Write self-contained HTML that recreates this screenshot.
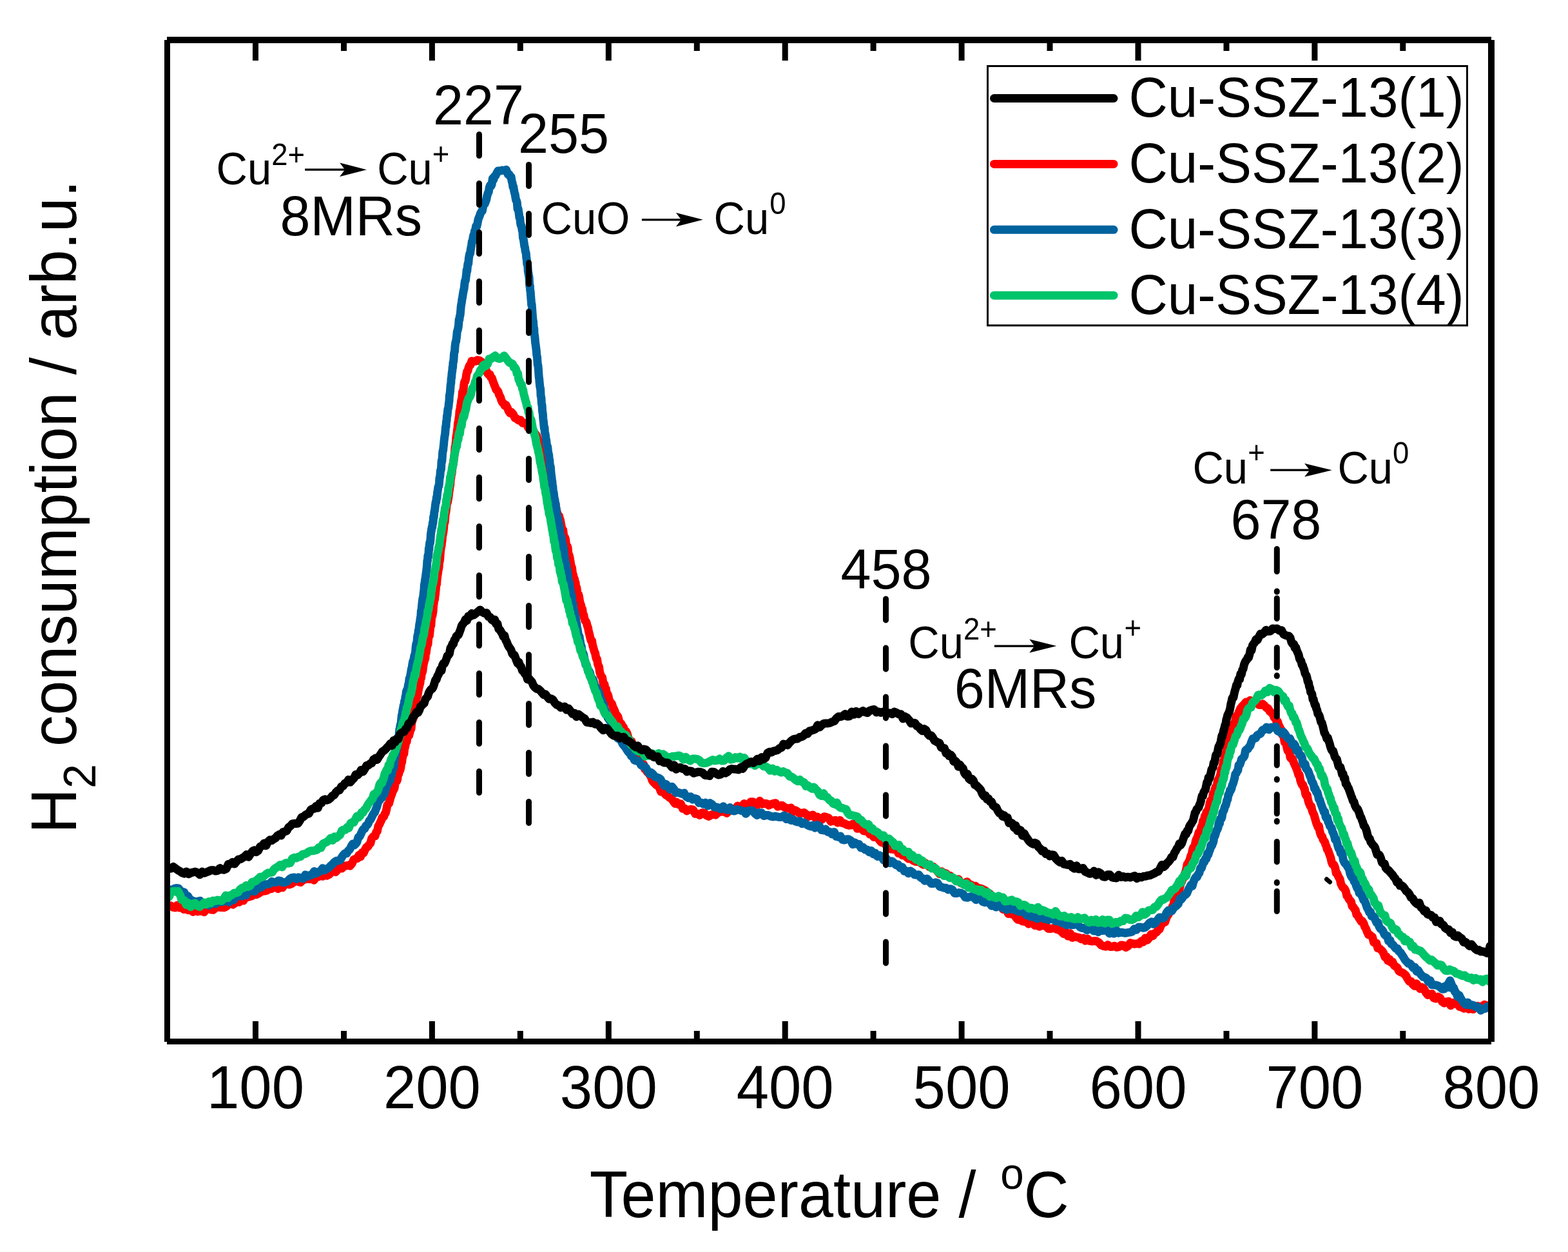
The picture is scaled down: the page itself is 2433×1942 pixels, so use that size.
<!DOCTYPE html><html><head><meta charset="utf-8"><title>H2-TPR Cu-SSZ-13</title><style>html,body{margin:0;padding:0;background:#fff;}svg{display:block;}text{font-family:'Liberation Sans', Arial, sans-serif;fill:#000;}</style></head><body>
<svg width="2433" height="1942" viewBox="0 0 2433 1942">
<rect width="2433" height="1942" fill="#fff"/>
<defs><clipPath id="pc"><rect x="259.5" y="62" width="2054.5" height="1553.5"/></clipPath></defs>
<g clip-path="url(#pc)" fill="none" stroke-width="13" stroke-linejoin="round" stroke-linecap="round">
<path d="M262.0,1404.5L265.2,1405.0L268.4,1407.4L271.7,1407.9L275.0,1404.2L278.4,1408.0L281.8,1407.2L285.3,1410.5L288.8,1409.0L292.3,1411.8L295.8,1411.0L299.3,1414.3L302.8,1411.6L306.3,1413.9L309.8,1413.1L313.3,1413.3L316.8,1414.7L320.3,1410.4L323.8,1408.5L327.3,1411.0L330.8,1411.4L334.3,1408.3L337.7,1405.6L341.1,1407.5L344.5,1407.3L347.9,1407.7L351.3,1405.9L354.7,1402.6L358.1,1400.5L361.4,1403.0L364.7,1400.8L368.0,1397.3L371.3,1399.2L374.6,1395.4L377.9,1397.0L381.2,1390.0L384.5,1391.5L387.8,1390.7L391.1,1389.6L394.4,1384.7L397.7,1387.6L401.0,1386.0L404.3,1383.8L407.7,1382.2L411.1,1382.1L414.5,1381.0L417.9,1376.5L421.3,1378.7L424.7,1376.1L428.1,1374.9L431.5,1378.7L434.9,1376.1L438.3,1376.8L441.8,1371.2L445.3,1370.6L448.8,1372.1L452.3,1370.9L455.8,1368.1L459.3,1366.0L462.8,1367.5L466.3,1368.6L469.8,1365.0L473.3,1364.0L476.8,1362.8L480.3,1363.8L483.7,1360.6L487.1,1365.2L490.5,1360.5L493.9,1360.1L497.3,1357.9L500.7,1359.2L504.1,1355.0L507.5,1358.2L510.9,1356.3L514.2,1352.7L517.5,1351.7L520.8,1352.6L524.1,1348.7L527.4,1346.4L530.6,1347.0L533.8,1342.9L536.9,1343.0L540.0,1342.2L543.0,1343.2L546.0,1339.8L548.9,1333.3L551.7,1332.2L554.4,1331.7L557.0,1326.4L559.5,1328.9L561.9,1322.3L564.2,1323.0L566.5,1317.8L568.7,1314.0L570.8,1313.4L572.8,1310.0L574.8,1308.0L576.7,1300.7L578.5,1298.3L580.3,1296.7L582.0,1296.8L583.7,1290.9L585.3,1289.5L586.9,1281.7L588.4,1279.3L589.9,1276.0L591.4,1273.1L592.8,1268.3L594.2,1267.9L595.6,1266.6L597.0,1262.4L598.3,1261.0L599.6,1256.0L600.9,1248.9L602.2,1247.5L603.5,1246.4L604.8,1241.7L606.0,1237.2L607.2,1233.5L608.4,1230.8L609.6,1226.6L610.8,1225.1L612.0,1222.7L613.2,1215.5L614.4,1212.5L615.5,1212.1L616.6,1209.4L617.7,1200.4L618.8,1200.6L619.8,1194.2L620.8,1194.9L621.8,1191.1L622.7,1183.4L623.6,1182.4L624.5,1174.9L625.3,1172.9L626.1,1168.6L626.9,1169.2L627.7,1160.4L628.5,1159.0L629.3,1154.5L630.2,1150.5L631.1,1150.7L632.1,1142.1L633.3,1140.4L634.6,1141.1L635.9,1136.0L637.0,1131.8L638.0,1130.4L638.9,1120.6L639.7,1118.7L640.4,1114.5L641.1,1114.9L641.8,1108.2L642.5,1106.2L643.2,1104.7L643.9,1096.9L644.6,1091.1L645.3,1092.4L646.0,1085.7L646.7,1081.5L647.4,1080.3L648.1,1077.7L648.8,1073.2L649.5,1069.3L650.3,1065.8L651.1,1062.2L651.9,1059.4L652.7,1052.5L653.5,1051.8L654.3,1043.6L655.1,1043.5L655.9,1040.7L656.7,1033.5L657.5,1029.0L658.3,1026.2L659.1,1023.0L659.8,1021.8L660.5,1013.9L661.2,1013.0L661.9,1007.5L662.6,1002.5L663.3,1000.9L664.0,999.1L664.6,992.1L665.2,987.8L665.8,984.8L666.4,986.0L667.0,979.9L667.6,974.2L668.2,971.2L668.8,970.2L669.4,961.5L670.0,956.5L670.6,956.2L671.1,953.7L671.6,951.1L672.1,947.7L672.6,938.8L673.1,937.0L673.6,931.8L674.1,930.7L674.6,929.5L675.1,923.7L675.6,921.6L676.1,915.0L676.6,910.3L677.1,906.0L677.6,906.5L678.1,899.4L678.6,894.6L679.1,891.5L679.6,888.5L680.1,884.2L680.6,882.8L681.1,879.3L681.6,870.6L682.1,871.3L682.6,867.7L683.1,860.9L683.6,854.4L684.1,851.3L684.6,846.2L685.1,846.8L685.6,840.1L686.1,838.8L686.6,830.5L687.1,829.4L687.6,827.2L688.1,823.8L688.6,819.3L689.1,812.8L689.6,811.2L690.1,810.3L690.6,804.3L691.1,797.4L691.6,796.2L692.1,793.3L692.7,787.5L693.3,782.4L693.9,780.5L694.5,779.2L695.1,776.2L695.7,772.2L696.3,768.5L696.9,762.5L697.5,759.5L698.1,754.8L698.7,752.1L699.3,742.8L699.9,740.6L700.5,735.8L701.0,734.7L701.5,729.5L702.0,724.5L702.5,721.0L703.0,721.4L703.5,717.9L704.0,713.6L704.5,710.1L705.0,705.5L705.5,702.2L706.0,693.7L706.5,692.3L707.0,689.6L707.5,683.8L708.0,677.1L708.5,675.0L709.0,671.3L709.5,666.7L710.0,665.0L710.5,656.5L711.0,655.4L711.5,651.7L712.0,648.4L712.5,645.6L713.0,638.3L713.5,635.7L714.0,635.1L714.5,629.3L715.1,627.2L715.7,621.5L716.3,619.9L716.9,616.2L717.5,608.0L718.2,609.1L718.9,605.5L719.6,598.9L720.3,593.8L721.1,591.4L721.9,591.6L722.8,587.5L723.7,580.9L724.7,576.3L725.8,575.9L727.0,570.6L728.4,567.2L730.0,566.1L731.9,559.9L734.3,560.9L737.4,560.4L740.9,558.6L744.0,559.1L746.7,561.0L749.0,563.9L751.1,566.1L753.1,572.0L755.0,575.6L756.8,579.4L758.5,581.4L760.2,581.1L761.8,585.6L763.4,586.6L765.0,591.7L766.6,596.0L768.2,599.9L769.8,604.3L771.4,605.4L773.0,607.6L774.6,612.7L776.3,615.5L778.0,621.0L779.7,624.5L781.5,625.7L783.3,629.4L785.2,628.3L787.2,632.3L789.3,637.5L791.5,640.7L793.8,639.5L796.3,642.6L799.0,648.3L801.8,649.5L804.8,652.0L807.8,651.5L810.9,656.3L813.9,656.4L816.8,656.3L819.6,663.5L822.3,661.1L824.8,666.9L827.1,667.0L829.2,672.3L831.1,673.5L832.9,676.1L834.5,683.8L836.0,683.4L837.4,690.6L838.7,693.7L839.9,695.7L841.1,698.3L842.2,704.2L843.3,708.1L844.3,706.8L845.3,711.9L846.2,719.0L847.1,721.7L848.0,722.2L848.8,727.2L849.6,733.2L850.4,732.8L851.2,737.7L852.0,740.1L852.8,745.9L853.6,749.6L854.4,755.0L855.2,758.8L856.0,760.5L856.8,765.6L857.6,767.1L858.5,772.0L859.4,777.1L860.3,776.1L861.2,782.7L862.2,782.4L863.2,791.8L864.2,793.7L865.2,798.4L866.2,801.7L867.3,799.8L868.4,803.9L869.5,806.9L870.6,813.4L871.7,818.8L872.7,822.4L873.7,821.9L874.7,830.4L875.7,834.4L876.7,833.7L877.6,836.8L878.5,845.3L879.4,848.9L880.3,847.0L881.1,850.0L881.9,859.6L882.7,860.0L883.5,862.5L884.3,866.3L885.1,871.6L885.9,876.2L886.7,879.1L887.5,880.8L888.3,887.6L889.1,891.1L889.9,893.9L890.7,896.9L891.5,898.1L892.3,905.0L893.1,903.8L894.0,913.8L894.9,911.8L895.8,919.9L896.7,922.8L897.6,922.1L898.6,925.8L899.6,932.9L900.6,936.4L901.6,938.8L902.6,945.3L903.6,944.6L904.6,952.4L905.7,953.6L906.8,959.5L907.9,962.9L909.0,963.6L910.1,965.8L911.2,970.6L912.3,973.1L913.4,978.9L914.5,983.5L915.5,987.6L916.5,991.8L917.5,994.5L918.5,993.9L919.5,1000.8L920.5,1004.0L921.5,1007.7L922.5,1011.2L923.5,1013.0L924.5,1018.6L925.5,1022.3L926.5,1022.3L927.5,1029.8L928.5,1032.5L929.5,1034.4L930.5,1042.1L931.5,1045.5L932.5,1048.2L933.5,1049.7L934.6,1050.9L935.7,1058.2L936.8,1062.4L937.9,1061.4L939.1,1069.2L940.3,1068.4L941.5,1077.5L942.7,1076.5L944.0,1079.7L945.3,1086.8L946.7,1088.3L948.1,1090.2L949.5,1091.9L951.0,1096.8L952.5,1099.6L954.0,1103.0L955.6,1108.9L957.2,1109.3L958.8,1111.5L960.5,1118.0L962.2,1122.1L963.9,1122.4L965.7,1126.4L967.5,1128.1L969.3,1135.6L971.1,1134.0L972.9,1137.0L974.7,1143.6L976.5,1148.0L978.3,1150.2L980.1,1150.1L981.8,1155.2L983.5,1161.4L985.2,1163.2L986.9,1167.3L988.6,1168.9L990.3,1169.1L992.0,1173.8L993.7,1179.1L995.4,1183.5L997.1,1185.9L998.8,1186.0L1000.6,1192.7L1002.4,1192.6L1004.2,1197.5L1006.1,1198.7L1008.0,1201.6L1010.0,1204.4L1012.0,1210.5L1014.1,1213.3L1016.3,1215.5L1018.5,1217.8L1020.8,1217.4L1023.2,1222.0L1025.6,1228.0L1028.1,1226.7L1030.7,1230.0L1033.3,1233.1L1036.0,1234.7L1038.8,1237.2L1041.6,1238.3L1044.5,1242.4L1047.4,1246.5L1050.3,1244.6L1053.3,1247.9L1056.3,1246.8L1059.4,1254.3L1062.5,1254.0L1065.7,1257.8L1068.9,1256.2L1072.2,1255.2L1075.5,1256.0L1078.9,1262.3L1082.3,1262.2L1085.8,1264.4L1089.3,1260.8L1092.8,1260.9L1096.3,1264.8L1099.8,1266.4L1103.3,1264.1L1106.8,1263.1L1110.3,1264.1L1113.8,1260.7L1117.3,1259.3L1120.8,1258.7L1124.2,1259.2L1127.6,1261.3L1131.0,1258.0L1134.4,1254.0L1137.8,1256.0L1141.1,1257.1L1144.4,1250.1L1147.8,1253.0L1151.2,1252.0L1154.6,1246.5L1158.0,1251.6L1161.4,1249.3L1164.9,1243.7L1168.4,1243.8L1171.9,1248.5L1175.4,1248.2L1178.9,1242.3L1182.4,1247.2L1185.9,1246.2L1189.4,1246.4L1192.9,1249.2L1196.4,1247.6L1199.9,1246.3L1203.4,1245.7L1206.8,1251.1L1210.2,1250.0L1213.6,1249.2L1217.0,1252.1L1220.4,1253.3L1223.8,1254.3L1227.2,1252.9L1230.6,1259.1L1234.0,1256.8L1237.4,1258.9L1240.8,1261.9L1244.2,1261.2L1247.6,1260.5L1251.0,1263.1L1254.4,1266.8L1257.8,1265.1L1261.2,1264.1L1264.7,1268.1L1268.2,1267.1L1271.7,1270.2L1275.2,1271.4L1278.7,1266.7L1282.2,1267.5L1285.7,1268.8L1289.2,1274.3L1292.7,1272.9L1296.2,1272.3L1299.7,1276.2L1303.2,1272.2L1306.6,1276.5L1310.0,1277.2L1313.4,1279.0L1316.8,1280.2L1320.2,1280.0L1323.6,1277.9L1327.0,1278.8L1330.3,1285.2L1333.6,1284.7L1336.9,1285.4L1340.1,1288.9L1343.3,1289.2L1346.5,1289.1L1349.6,1294.0L1352.7,1294.4L1355.7,1298.4L1358.7,1298.0L1361.7,1298.8L1364.6,1303.2L1367.5,1306.7L1370.4,1303.3L1373.3,1308.9L1376.2,1312.6L1379.1,1309.1L1382.0,1317.0L1385.0,1317.4L1388.0,1317.6L1391.1,1317.2L1394.2,1323.8L1397.3,1322.5L1400.5,1326.8L1403.7,1326.9L1406.9,1329.8L1410.1,1332.1L1413.3,1328.2L1416.5,1334.7L1419.7,1336.2L1422.9,1336.6L1426.1,1335.9L1429.3,1339.0L1432.5,1341.2L1435.7,1338.6L1438.9,1341.0L1442.1,1344.6L1445.3,1345.7L1448.5,1344.6L1451.7,1347.9L1454.9,1351.7L1458.1,1355.6L1461.3,1351.8L1464.5,1356.9L1467.7,1354.6L1470.9,1358.3L1474.1,1358.2L1477.4,1361.5L1480.7,1363.0L1484.0,1365.5L1487.3,1363.8L1490.6,1369.6L1493.9,1371.0L1497.2,1369.9L1500.5,1367.7L1503.8,1371.6L1507.1,1372.5L1510.4,1375.3L1513.6,1374.3L1516.8,1377.6L1520.0,1377.7L1523.1,1378.5L1526.2,1380.1L1529.2,1381.4L1532.2,1384.6L1535.1,1385.8L1538.0,1388.9L1540.8,1393.5L1543.5,1395.1L1546.2,1394.9L1548.8,1400.4L1551.4,1400.9L1554.0,1407.7L1556.6,1410.5L1559.2,1410.8L1561.9,1411.5L1564.6,1417.4L1567.4,1414.1L1570.3,1418.2L1573.3,1417.6L1576.4,1423.2L1579.5,1426.6L1582.7,1422.9L1585.9,1428.8L1589.2,1429.4L1592.5,1429.1L1595.9,1433.1L1599.3,1431.2L1602.7,1432.1L1606.1,1435.6L1609.5,1435.4L1612.9,1437.1L1616.3,1434.7L1619.7,1436.0L1623.1,1436.7L1626.5,1440.4L1629.9,1440.6L1633.3,1439.9L1636.7,1439.5L1640.1,1441.7L1643.5,1442.5L1646.9,1445.0L1650.3,1448.5L1653.7,1445.3L1657.1,1452.1L1660.5,1447.8L1663.9,1454.4L1667.3,1452.5L1670.7,1453.8L1674.1,1454.1L1677.5,1456.6L1680.9,1455.1L1684.3,1459.3L1687.7,1456.3L1691.1,1459.6L1694.5,1460.0L1697.9,1459.6L1701.4,1459.8L1704.9,1461.8L1708.4,1465.8L1711.9,1467.5L1715.4,1468.2L1718.9,1465.7L1722.4,1468.5L1725.9,1468.4L1729.4,1467.3L1732.9,1469.3L1736.4,1468.7L1739.9,1465.9L1743.4,1466.5L1746.9,1469.5L1750.4,1467.6L1753.9,1462.6L1757.4,1463.8L1760.8,1464.2L1764.2,1463.6L1767.5,1464.2L1770.8,1459.9L1774.0,1461.2L1777.1,1455.0L1780.2,1458.3L1783.2,1454.7L1786.1,1449.2L1788.9,1451.7L1791.6,1447.6L1794.2,1446.2L1796.7,1443.3L1799.1,1441.3L1801.4,1435.3L1803.6,1432.5L1805.7,1429.3L1807.7,1430.3L1809.6,1424.4L1811.4,1420.4L1813.1,1418.3L1814.7,1414.0L1816.3,1411.8L1817.8,1412.0L1819.3,1405.9L1820.7,1403.7L1822.1,1396.8L1823.5,1393.0L1824.8,1391.1L1826.1,1391.2L1827.4,1382.5L1828.7,1382.8L1830.0,1380.0L1831.2,1373.6L1832.4,1370.0L1833.6,1367.9L1834.8,1364.0L1836.0,1361.6L1837.2,1360.8L1838.4,1355.1L1839.6,1352.0L1840.8,1348.4L1842.0,1341.1L1843.2,1341.0L1844.4,1336.9L1845.6,1335.3L1846.8,1330.9L1848.0,1327.0L1849.2,1325.2L1850.4,1318.5L1851.6,1314.6L1852.8,1315.0L1854.0,1312.0L1855.2,1305.1L1856.4,1301.7L1857.6,1299.3L1858.9,1295.7L1860.2,1291.0L1861.5,1289.9L1862.8,1288.2L1864.1,1282.2L1865.4,1280.5L1866.7,1273.0L1868.0,1274.1L1869.3,1266.3L1870.6,1266.3L1871.9,1259.7L1873.2,1260.6L1874.5,1256.0L1875.8,1253.4L1877.1,1245.9L1878.4,1241.7L1879.7,1242.7L1881.0,1240.0L1882.3,1231.2L1883.6,1230.9L1884.8,1225.2L1886.0,1221.3L1887.2,1221.4L1888.4,1216.4L1889.5,1210.4L1890.6,1208.8L1891.7,1207.0L1892.8,1203.8L1893.8,1201.3L1894.8,1194.1L1895.8,1193.7L1896.7,1189.8L1897.6,1187.4L1898.5,1180.4L1899.4,1178.5L1900.3,1173.0L1901.2,1172.8L1902.1,1167.7L1903.0,1165.0L1903.9,1161.3L1904.8,1153.3L1905.7,1151.5L1906.6,1145.9L1907.6,1146.2L1908.6,1144.0L1909.6,1138.4L1910.6,1132.7L1911.7,1130.7L1912.8,1130.2L1913.9,1122.6L1915.1,1123.5L1916.3,1120.4L1917.6,1112.2L1919.0,1109.9L1920.5,1109.9L1922.1,1105.0L1923.9,1100.6L1925.8,1097.5L1928.0,1094.8L1930.4,1092.7L1933.2,1089.1L1936.3,1090.7L1939.7,1086.4L1943.2,1088.1L1946.7,1089.5L1950.0,1089.3L1953.2,1093.2L1956.3,1093.5L1959.3,1091.9L1962.2,1094.6L1965.0,1097.9L1967.7,1098.9L1970.3,1103.5L1972.7,1105.4L1974.9,1106.8L1977.0,1112.7L1979.0,1113.1L1980.8,1119.5L1982.5,1119.3L1984.1,1124.7L1985.6,1127.4L1987.0,1132.2L1988.3,1132.3L1989.6,1139.4L1990.8,1139.4L1992.0,1143.0L1993.2,1150.9L1994.4,1151.0L1995.6,1152.4L1996.8,1159.5L1998.0,1164.1L1999.3,1165.9L2000.6,1165.8L2002.0,1174.8L2003.4,1176.7L2004.8,1176.3L2006.3,1179.6L2007.8,1183.6L2009.3,1186.9L2010.7,1189.8L2012.1,1193.2L2013.5,1197.4L2014.9,1202.2L2016.3,1202.2L2017.7,1210.4L2019.1,1214.5L2020.4,1217.3L2021.7,1217.3L2023.0,1221.6L2024.3,1223.5L2025.6,1231.5L2026.9,1234.4L2028.2,1233.0L2029.5,1240.3L2030.8,1245.2L2032.1,1248.2L2033.4,1250.9L2034.7,1250.9L2036.0,1257.3L2037.3,1260.6L2038.6,1263.0L2039.9,1267.4L2041.2,1271.9L2042.5,1276.6L2043.8,1279.8L2045.1,1283.2L2046.4,1281.0L2047.7,1289.0L2049.0,1293.7L2050.3,1296.8L2051.6,1297.7L2052.9,1302.1L2054.2,1304.1L2055.5,1305.7L2056.8,1309.9L2058.1,1312.7L2059.4,1317.8L2060.7,1318.9L2062.0,1322.8L2063.4,1326.7L2064.8,1330.4L2066.2,1337.2L2067.6,1340.6L2069.0,1340.4L2070.4,1342.5L2071.8,1346.5L2073.2,1354.2L2074.6,1354.5L2076.1,1358.3L2077.6,1361.3L2079.1,1363.7L2080.6,1370.8L2082.1,1373.8L2083.6,1376.5L2085.1,1377.3L2086.7,1379.3L2088.3,1382.6L2089.9,1389.7L2091.5,1390.9L2093.1,1394.7L2094.7,1396.7L2096.4,1398.5L2098.1,1405.8L2099.8,1406.7L2101.5,1409.7L2103.2,1411.5L2104.9,1418.8L2106.7,1419.8L2108.5,1423.7L2110.3,1426.2L2112.1,1429.2L2113.9,1428.8L2115.8,1431.9L2117.7,1437.6L2119.6,1440.7L2121.5,1445.8L2123.5,1450.0L2125.5,1450.2L2127.5,1452.0L2129.5,1453.4L2131.6,1461.6L2133.7,1462.8L2135.8,1463.0L2137.9,1470.7L2140.1,1471.1L2142.3,1472.7L2144.5,1474.7L2146.7,1478.2L2149.0,1484.6L2151.3,1483.9L2153.6,1490.2L2156.0,1487.8L2158.4,1492.8L2160.8,1492.0L2163.2,1497.5L2165.7,1499.3L2168.2,1500.9L2170.7,1506.2L2173.3,1508.0L2175.9,1508.6L2178.5,1510.4L2181.2,1512.8L2183.9,1517.8L2186.6,1522.2L2189.4,1522.2L2192.2,1527.0L2195.0,1529.5L2197.8,1525.7L2200.7,1530.0L2203.6,1533.7L2206.5,1531.4L2209.5,1533.7L2212.5,1539.5L2215.5,1543.4L2218.6,1542.4L2221.7,1541.6L2224.8,1548.1L2228.0,1549.0L2231.2,1546.1L2234.4,1547.7L2237.7,1553.6L2241.0,1555.9L2244.3,1554.0L2247.6,1553.4L2251.0,1559.7L2254.4,1555.4L2257.8,1557.0L2261.3,1557.3L2264.8,1561.7L2268.3,1562.3L2271.8,1564.3L2275.3,1558.9L2278.8,1565.2L2282.3,1561.3L2285.8,1565.6L2289.3,1561.7L2292.8,1560.5L2296.3,1563.2L2299.8,1560.7L2303.3,1558.4L2306.8,1559.7L2310.3,1560.8L2312.0,1559.7" stroke="#ff0000"/>
<path d="M262.0,1387.5L264.3,1380.1L267.1,1380.9L270.4,1378.4L273.9,1377.6L277.2,1378.0L280.2,1382.6L283.1,1383.2L285.9,1384.2L288.7,1390.7L291.5,1390.0L294.4,1394.7L297.4,1396.6L300.5,1397.8L303.7,1398.9L307.0,1398.0L310.4,1397.3L313.8,1403.6L317.3,1402.0L320.8,1402.5L324.3,1404.3L327.8,1401.3L331.3,1400.5L334.8,1401.9L338.3,1398.1L341.8,1398.6L345.3,1398.9L348.7,1395.4L352.1,1396.8L355.5,1399.4L358.9,1394.3L362.2,1396.1L365.5,1391.4L368.8,1390.1L372.1,1388.7L375.4,1390.1L378.7,1384.7L382.0,1388.6L385.2,1381.6L388.4,1381.6L391.7,1381.7L395.0,1382.7L398.3,1379.2L401.6,1374.3L404.9,1376.8L408.2,1373.4L411.5,1371.7L414.9,1371.6L418.3,1370.8L421.7,1367.4L425.1,1368.4L428.5,1368.6L432.0,1365.9L435.5,1366.7L439.0,1368.9L442.5,1368.3L446.0,1367.1L449.5,1363.4L453.0,1361.4L456.5,1361.1L460.0,1363.4L463.5,1360.9L467.0,1361.9L470.5,1362.7L473.9,1356.9L477.3,1359.5L480.7,1357.7L484.1,1356.9L487.5,1351.6L490.8,1354.8L494.1,1352.4L497.4,1351.1L500.6,1346.7L503.8,1349.8L507.0,1347.8L510.1,1346.1L513.1,1342.9L516.1,1340.3L519.0,1337.3L521.9,1335.2L524.7,1334.9L527.5,1334.5L530.2,1329.9L532.8,1326.1L535.4,1323.5L537.9,1323.6L540.4,1319.4L542.8,1317.4L545.1,1312.4L547.4,1309.0L549.6,1311.0L551.8,1309.1L553.9,1306.3L556.0,1298.7L558.1,1297.4L560.1,1293.3L562.1,1288.8L564.0,1285.8L565.9,1285.5L567.7,1280.9L569.5,1280.0L571.3,1277.6L573.0,1273.0L574.7,1271.5L576.4,1268.5L578.1,1264.6L579.8,1261.8L581.5,1260.0L583.2,1255.3L584.8,1251.5L586.4,1245.4L588.0,1241.9L589.6,1240.8L591.3,1234.8L593.0,1237.3L594.7,1229.1L596.4,1231.3L598.1,1225.0L599.8,1220.4L601.4,1216.5L602.9,1214.2L604.3,1210.8L605.5,1210.3L606.6,1203.4L607.6,1201.7L608.6,1196.8L609.5,1193.4L610.3,1191.6L611.1,1189.7L611.8,1184.1L612.5,1178.8L613.2,1172.6L613.8,1172.3L614.4,1167.2L615.0,1162.9L615.6,1162.5L616.2,1156.2L616.8,1153.5L617.4,1149.0L618.0,1146.8L618.6,1142.3L619.2,1139.2L619.8,1131.6L620.4,1129.9L621.0,1125.9L621.6,1123.0L622.2,1122.4L622.8,1115.3L623.4,1109.4L624.1,1107.5L624.8,1101.8L625.5,1098.9L626.2,1094.2L626.9,1094.5L627.6,1087.4L628.3,1087.9L629.0,1080.9L629.7,1079.2L630.4,1073.0L631.2,1070.6L632.0,1070.2L632.8,1066.9L633.6,1061.9L634.4,1059.8L635.2,1052.2L636.0,1051.6L636.8,1047.4L637.6,1043.0L638.4,1037.6L639.2,1035.4L640.0,1029.7L640.8,1025.6L641.6,1027.2L642.4,1020.1L643.1,1016.4L643.8,1016.0L644.5,1012.0L645.2,1003.4L645.8,999.1L646.4,997.5L647.0,996.4L647.6,988.0L648.2,984.9L648.8,983.7L649.4,977.4L649.9,977.4L650.4,971.7L650.9,967.6L651.4,966.5L651.9,961.5L652.4,958.3L652.9,955.8L653.4,947.2L653.9,948.0L654.4,941.6L654.9,936.3L655.4,931.7L655.9,928.3L656.4,927.1L656.9,923.5L657.4,918.6L657.9,915.7L658.4,906.0L658.9,906.9L659.4,900.5L659.9,897.8L660.4,894.9L660.9,890.5L661.4,887.8L661.9,882.7L662.4,879.6L662.9,869.8L663.4,870.5L663.9,861.8L664.4,864.0L664.9,860.4L665.4,850.6L665.9,852.3L666.4,844.5L666.9,840.8L667.4,841.9L667.9,837.8L668.4,829.3L669.0,824.9L669.6,821.8L670.2,817.5L670.8,817.7L671.4,810.9L672.0,810.8L672.6,801.7L673.2,802.3L673.8,794.6L674.4,792.5L675.0,787.9L675.6,782.4L676.2,778.5L676.8,778.8L677.4,771.3L678.0,772.7L678.6,764.1L679.2,761.3L679.8,756.4L680.4,754.0L681.0,753.7L681.5,748.5L682.0,741.3L682.5,740.7L683.0,736.3L683.5,729.6L684.0,729.6L684.5,727.3L685.0,717.0L685.4,713.9L685.8,715.8L686.2,710.9L686.6,703.3L687.0,699.4L687.4,699.7L687.8,696.7L688.2,692.2L688.6,689.6L689.0,684.3L689.5,679.9L690.0,676.2L690.5,674.1L691.0,669.0L691.5,661.8L692.0,662.3L692.5,653.9L693.0,653.1L693.5,645.2L694.0,644.6L694.5,638.8L695.0,634.6L695.5,633.3L696.0,630.2L696.5,624.8L697.0,622.3L697.4,613.0L697.8,612.7L698.2,609.1L698.6,605.9L699.0,599.3L699.4,596.1L699.8,594.4L700.2,587.0L700.6,586.5L701.0,580.3L701.4,577.3L701.8,575.3L702.2,569.1L702.6,569.8L703.0,562.1L703.5,561.7L704.0,557.3L704.5,549.1L705.0,546.4L705.5,545.0L706.0,537.4L706.5,533.8L707.0,530.5L707.5,530.1L708.0,526.4L708.6,522.3L709.2,515.0L709.8,513.0L710.4,511.3L711.0,508.3L711.6,504.1L712.2,495.3L712.8,496.4L713.4,490.5L714.0,489.1L714.6,483.5L715.2,475.7L715.8,471.9L716.4,468.6L717.0,463.8L717.6,461.4L718.2,456.8L718.8,453.5L719.4,450.2L720.0,448.3L720.6,443.1L721.2,437.1L721.8,435.1L722.4,435.0L723.0,429.9L723.6,425.8L724.2,418.4L724.8,420.4L725.4,413.4L726.0,408.7L726.7,409.3L727.4,400.8L728.1,396.4L728.8,393.4L729.5,393.4L730.2,387.8L730.9,384.0L731.6,380.4L732.4,374.4L733.2,374.9L734.0,368.3L734.8,364.8L735.7,363.1L736.6,358.3L737.6,357.0L738.6,350.8L739.7,351.7L740.8,347.2L742.0,340.4L743.2,337.4L744.5,333.9L745.8,330.2L747.1,328.4L748.4,327.2L749.7,320.0L751.0,317.2L752.2,316.4L753.4,313.1L754.6,310.0L755.8,303.9L757.0,299.8L758.2,297.7L759.4,290.3L760.6,287.3L761.8,288.7L763.1,286.2L764.4,276.6L765.8,278.8L767.3,273.5L768.9,272.5L770.7,268.6L772.9,265.0L775.8,265.1L779.3,264.0L782.5,264.7L785.4,263.2L788.2,270.3L790.4,270.7L792.0,274.5L793.2,274.7L794.2,281.4L795.1,283.9L795.9,290.1L796.7,289.3L797.5,294.9L798.3,298.7L799.1,301.1L799.9,306.1L800.7,310.7L801.5,311.2L802.3,314.6L803.1,324.6L803.9,323.4L804.6,327.5L805.3,331.9L806.0,337.9L806.7,337.7L807.4,345.0L808.1,349.3L808.8,349.7L809.5,352.8L810.2,357.2L810.9,359.7L811.5,368.8L812.1,370.7L812.7,373.6L813.3,378.5L813.9,382.4L814.5,383.6L815.1,389.3L815.7,390.8L816.3,393.5L816.8,400.1L817.3,402.6L817.8,409.4L818.3,409.6L818.8,411.9L819.3,420.1L819.8,423.1L820.3,426.3L820.7,427.8L821.1,431.2L821.5,439.4L821.9,444.1L822.3,443.3L822.7,450.9L823.1,451.7L823.5,457.8L823.9,463.0L824.3,467.1L824.7,473.4L825.1,472.0L825.5,477.4L825.9,483.0L826.3,488.8L826.7,493.5L827.1,497.3L827.5,498.3L827.9,505.5L828.3,510.6L828.7,509.4L829.1,518.3L829.5,519.9L829.9,523.2L830.3,527.7L830.7,532.4L831.1,534.3L831.5,537.9L831.9,540.8L832.3,544.3L832.7,549.8L833.1,552.0L833.5,553.6L833.9,559.7L834.3,566.0L834.7,566.0L835.1,569.1L835.5,574.2L835.9,580.9L836.3,585.4L836.7,587.7L837.1,593.0L837.5,596.9L837.9,600.1L838.3,602.2L838.7,604.0L839.1,614.1L839.5,614.9L839.9,617.7L840.3,623.8L840.7,627.8L841.1,628.6L841.5,637.2L841.9,639.5L842.3,641.9L842.7,648.4L843.1,651.9L843.5,655.1L843.9,659.6L844.4,664.6L844.9,663.2L845.4,671.6L845.9,672.1L846.5,676.0L847.1,681.4L847.7,682.7L848.4,691.0L849.1,691.2L849.8,693.7L850.5,701.1L851.1,703.6L851.7,705.7L852.3,714.4L852.8,713.8L853.3,722.1L853.8,724.1L854.3,723.6L854.8,730.7L855.3,736.1L855.8,739.2L856.3,744.1L856.8,746.4L857.3,753.0L857.8,754.2L858.3,760.1L858.8,763.4L859.3,765.4L859.8,770.8L860.3,773.0L860.8,774.8L861.4,778.9L862.0,781.7L862.6,791.3L863.2,789.0L863.8,796.3L864.4,799.3L865.0,804.7L865.7,803.8L866.4,808.3L867.1,812.4L867.8,816.2L868.5,819.8L869.2,827.3L869.9,831.3L870.6,831.2L871.3,834.2L872.0,840.9L872.7,844.9L873.4,845.1L874.1,850.0L874.8,853.3L875.5,861.8L876.2,864.5L876.9,870.4L877.6,874.5L878.3,874.4L879.0,881.3L879.6,884.2L880.2,884.0L880.8,889.2L881.4,894.8L882.0,899.5L882.6,902.2L883.2,902.6L883.8,904.7L884.4,913.6L885.0,914.4L885.6,917.7L886.3,922.2L887.0,923.6L887.7,931.8L888.4,934.7L889.1,936.6L889.8,943.3L890.5,947.7L891.2,947.9L891.9,953.0L892.6,955.2L893.3,958.1L894.0,966.0L894.7,966.6L895.4,973.6L896.1,975.9L896.8,980.9L897.5,984.8L898.2,985.9L899.0,987.2L899.8,992.9L900.6,996.8L901.4,1001.5L902.2,1002.3L903.1,1009.9L904.0,1014.3L904.9,1013.1L905.8,1016.0L906.8,1021.5L907.8,1026.2L908.9,1031.5L910.1,1031.3L911.3,1035.6L912.6,1040.9L914.0,1040.8L915.5,1043.8L917.0,1051.7L918.6,1051.9L920.2,1053.6L921.8,1058.8L923.3,1065.6L924.8,1065.7L926.3,1068.7L927.7,1072.4L929.1,1073.3L930.5,1078.7L931.9,1083.5L933.3,1086.8L934.7,1090.6L936.0,1091.9L937.3,1097.7L938.7,1101.1L940.1,1103.9L941.5,1106.8L942.9,1112.9L944.3,1114.9L945.7,1117.4L947.2,1117.9L948.7,1124.7L950.2,1129.2L951.8,1128.2L953.4,1134.4L955.1,1137.6L956.8,1141.8L958.6,1145.4L960.4,1142.9L962.3,1146.5L964.3,1150.1L966.3,1154.2L968.4,1156.7L970.5,1159.2L972.7,1163.0L975.0,1166.5L977.3,1168.4L979.7,1173.1L982.1,1174.1L984.5,1179.3L987.0,1180.0L989.5,1180.1L992.0,1181.5L994.6,1186.6L997.2,1188.2L999.8,1188.8L1002.5,1191.2L1005.2,1196.3L1007.9,1200.5L1010.6,1198.4L1013.4,1201.0L1016.2,1204.8L1019.0,1205.7L1021.9,1206.6L1024.8,1208.6L1027.7,1214.1L1030.6,1218.8L1033.6,1216.4L1036.6,1220.7L1039.6,1224.5L1042.7,1220.2L1045.8,1224.2L1048.9,1229.6L1052.0,1228.9L1055.2,1230.2L1058.4,1231.2L1061.6,1230.2L1064.8,1235.7L1068.1,1237.7L1071.4,1235.7L1074.7,1240.1L1078.0,1238.5L1081.3,1239.3L1084.6,1245.3L1088.0,1245.0L1091.4,1247.1L1094.8,1245.0L1098.2,1249.9L1101.6,1245.6L1105.0,1247.8L1108.4,1251.9L1111.8,1252.1L1115.3,1253.1L1118.8,1254.9L1122.3,1250.8L1125.8,1255.2L1129.3,1256.3L1132.8,1252.5L1136.3,1257.4L1139.8,1258.0L1143.3,1255.6L1146.8,1256.2L1150.3,1257.5L1153.8,1258.2L1157.3,1262.2L1160.8,1257.7L1164.3,1257.1L1167.8,1257.4L1171.3,1261.7L1174.8,1264.6L1178.3,1260.4L1181.8,1260.9L1185.3,1265.5L1188.8,1264.6L1192.3,1264.5L1195.8,1266.2L1199.3,1266.9L1202.8,1266.1L1206.3,1266.9L1209.8,1267.6L1213.3,1267.3L1216.8,1264.9L1220.3,1270.6L1223.8,1267.6L1227.3,1272.4L1230.8,1271.1L1234.2,1273.9L1237.6,1274.9L1241.0,1273.5L1244.4,1277.6L1247.8,1275.9L1251.2,1278.7L1254.6,1280.7L1258.0,1281.9L1261.4,1280.1L1264.7,1284.2L1268.0,1279.7L1271.3,1281.2L1274.6,1287.3L1277.9,1287.9L1281.2,1286.2L1284.5,1290.4L1287.8,1290.6L1291.1,1294.1L1294.4,1290.5L1297.6,1297.5L1300.8,1298.3L1304.0,1297.0L1307.2,1302.4L1310.4,1303.0L1313.6,1301.7L1316.8,1301.8L1320.0,1303.6L1323.2,1309.7L1326.4,1306.9L1329.6,1309.4L1332.8,1309.5L1336.0,1315.0L1339.2,1314.2L1342.4,1318.0L1345.6,1318.0L1348.8,1321.7L1352.0,1319.6L1355.2,1324.9L1358.4,1323.5L1361.6,1328.5L1364.8,1326.8L1368.0,1328.8L1371.2,1334.2L1374.4,1330.7L1377.6,1334.1L1380.8,1338.7L1384.0,1335.8L1387.2,1338.5L1390.4,1341.9L1393.6,1341.1L1396.8,1346.2L1400.0,1345.1L1403.2,1351.3L1406.4,1351.0L1409.6,1354.7L1412.8,1351.0L1416.0,1353.3L1419.2,1356.9L1422.4,1357.2L1425.6,1356.8L1428.8,1361.4L1432.0,1362.8L1435.2,1366.3L1438.4,1362.9L1441.6,1366.2L1444.9,1370.5L1448.2,1370.4L1451.5,1368.8L1454.8,1369.8L1458.1,1375.2L1461.4,1376.1L1464.7,1377.2L1468.0,1377.2L1471.3,1380.0L1474.6,1378.7L1477.9,1380.2L1481.2,1385.4L1484.5,1385.6L1487.8,1384.6L1491.1,1385.1L1494.4,1386.9L1497.7,1391.8L1501.1,1392.2L1504.5,1391.1L1507.9,1390.4L1511.3,1392.4L1514.7,1395.8L1518.1,1393.0L1521.5,1394.5L1524.9,1398.7L1528.3,1399.7L1531.7,1398.3L1535.1,1400.4L1538.5,1405.0L1541.9,1402.2L1545.3,1407.1L1548.7,1403.3L1552.1,1405.4L1555.5,1408.3L1558.9,1409.4L1562.3,1411.1L1565.7,1407.2L1569.1,1410.3L1572.5,1410.6L1575.9,1411.5L1579.3,1413.4L1582.7,1414.3L1586.1,1413.9L1589.5,1414.1L1592.9,1419.7L1596.3,1415.4L1599.7,1422.1L1603.1,1418.8L1606.5,1423.6L1609.9,1424.9L1613.3,1420.2L1616.7,1421.0L1620.1,1425.4L1623.5,1422.7L1627.0,1426.9L1630.5,1424.5L1634.0,1425.8L1637.5,1428.3L1641.0,1429.0L1644.5,1428.9L1648.0,1431.6L1651.5,1432.5L1655.0,1434.8L1658.5,1432.5L1662.0,1434.8L1665.5,1434.6L1669.0,1433.2L1672.5,1434.3L1676.0,1438.2L1679.5,1439.6L1683.0,1439.6L1686.5,1442.8L1690.0,1440.1L1693.5,1440.0L1697.0,1443.9L1700.5,1439.9L1704.0,1445.7L1707.5,1443.2L1711.0,1443.5L1714.5,1443.3L1718.0,1442.6L1721.5,1448.0L1725.0,1445.6L1728.5,1448.1L1732.0,1442.7L1735.5,1447.2L1739.0,1446.3L1742.5,1446.6L1746.0,1447.3L1749.5,1446.6L1753.0,1446.1L1756.5,1445.2L1760.0,1440.8L1763.5,1442.2L1766.9,1438.0L1770.3,1438.3L1773.7,1439.3L1777.0,1438.6L1780.3,1435.5L1783.5,1431.7L1786.7,1429.9L1789.8,1433.4L1792.9,1431.6L1795.9,1427.1L1798.9,1423.1L1801.8,1423.3L1804.7,1424.4L1807.5,1422.2L1810.3,1415.2L1813.0,1412.1L1815.7,1413.7L1818.3,1413.0L1820.9,1408.6L1823.4,1406.3L1825.9,1404.6L1828.3,1402.1L1830.7,1394.0L1833.0,1395.0L1835.3,1391.7L1837.5,1388.2L1839.7,1387.8L1841.8,1385.4L1843.9,1380.0L1846.0,1376.4L1848.0,1372.4L1850.0,1374.5L1851.9,1367.6L1853.8,1363.3L1855.6,1360.4L1857.4,1360.4L1859.2,1355.9L1860.9,1354.2L1862.6,1346.6L1864.2,1347.1L1865.8,1342.1L1867.4,1336.6L1868.9,1336.7L1870.4,1331.8L1871.9,1332.1L1873.4,1324.2L1874.8,1325.8L1876.2,1320.9L1877.6,1317.6L1878.9,1310.8L1880.2,1312.3L1881.5,1308.8L1882.8,1305.7L1884.1,1296.6L1885.3,1296.4L1886.5,1292.2L1887.7,1288.1L1888.9,1286.7L1890.1,1283.6L1891.3,1276.0L1892.5,1277.6L1893.7,1270.0L1894.9,1270.3L1896.0,1267.9L1897.1,1260.1L1898.2,1258.5L1899.3,1256.4L1900.4,1251.4L1901.5,1250.3L1902.6,1247.0L1903.7,1241.4L1904.8,1240.3L1906.0,1232.6L1907.2,1231.4L1908.4,1226.1L1909.6,1226.1L1910.8,1223.4L1912.0,1218.1L1913.2,1215.8L1914.4,1211.7L1915.6,1207.5L1916.9,1200.5L1918.2,1199.7L1919.5,1196.3L1920.8,1195.0L1922.1,1186.8L1923.5,1186.5L1924.9,1183.0L1926.4,1177.5L1927.9,1176.3L1929.4,1174.9L1931.0,1172.4L1932.6,1163.9L1934.3,1162.5L1936.1,1162.2L1937.9,1158.9L1939.8,1156.7L1941.8,1150.7L1943.9,1145.7L1946.1,1145.4L1948.4,1144.9L1950.8,1140.4L1953.4,1139.2L1956.1,1137.7L1959.0,1132.3L1962.1,1131.6L1965.4,1127.9L1968.8,1131.8L1972.3,1128.3L1975.8,1128.2L1979.3,1127.2L1982.6,1133.9L1985.8,1135.4L1988.8,1137.7L1991.6,1135.4L1994.3,1138.9L1996.8,1143.5L1999.2,1145.7L2001.5,1145.5L2003.7,1150.4L2005.8,1155.5L2007.8,1153.7L2009.7,1156.5L2011.6,1164.6L2013.4,1162.6L2015.2,1167.3L2016.9,1171.4L2018.6,1171.6L2020.3,1175.6L2021.9,1184.1L2023.5,1186.8L2025.1,1184.9L2026.6,1192.2L2028.1,1193.7L2029.6,1195.5L2031.1,1199.2L2032.6,1203.7L2034.0,1206.3L2035.4,1212.1L2036.8,1213.5L2038.2,1217.3L2039.6,1223.5L2041.0,1222.8L2042.4,1228.8L2043.8,1228.6L2045.2,1233.6L2046.6,1239.8L2047.9,1240.6L2049.2,1245.6L2050.5,1249.0L2051.8,1252.6L2053.1,1256.1L2054.4,1259.8L2055.7,1259.1L2057.0,1267.0L2058.3,1269.3L2059.6,1268.0L2060.9,1275.2L2062.2,1276.9L2063.5,1281.4L2064.8,1282.8L2066.1,1284.3L2067.5,1289.9L2068.9,1292.3L2070.3,1296.4L2071.7,1302.5L2073.1,1301.4L2074.5,1306.3L2075.9,1312.1L2077.3,1316.5L2078.7,1316.1L2080.1,1323.4L2081.5,1321.4L2082.9,1325.9L2084.4,1334.0L2085.9,1337.6L2087.4,1339.7L2088.9,1340.3L2090.4,1343.6L2091.9,1345.8L2093.4,1348.2L2094.9,1355.0L2096.4,1358.8L2097.9,1361.2L2099.5,1360.9L2101.1,1367.3L2102.7,1368.0L2104.3,1373.6L2105.9,1377.8L2107.5,1377.8L2109.1,1385.3L2110.8,1383.9L2112.5,1388.1L2114.2,1392.0L2115.9,1396.4L2117.6,1397.5L2119.3,1402.0L2121.1,1407.6L2122.9,1410.6L2124.7,1415.1L2126.5,1414.4L2128.3,1421.2L2130.2,1421.4L2132.1,1421.9L2134.0,1426.6L2135.9,1430.9L2137.9,1430.5L2139.9,1437.1L2141.9,1440.7L2143.9,1441.5L2146.0,1444.4L2148.1,1449.2L2150.2,1451.2L2152.4,1451.5L2154.6,1459.7L2156.8,1458.2L2159.0,1464.6L2161.3,1465.3L2163.6,1468.5L2165.9,1471.2L2168.2,1471.2L2170.6,1475.6L2173.0,1477.4L2175.4,1481.1L2177.8,1484.7L2180.3,1489.1L2182.8,1491.7L2185.3,1494.6L2187.8,1494.4L2190.3,1497.6L2192.8,1501.1L2195.4,1500.2L2198.0,1506.7L2200.6,1505.1L2203.2,1509.7L2205.8,1512.7L2208.4,1515.4L2211.0,1515.9L2213.6,1517.4L2216.3,1522.8L2219.0,1520.6L2221.8,1527.5L2224.7,1527.7L2227.8,1527.9L2231.0,1528.9L2234.4,1531.0L2237.9,1534.3L2241.4,1530.1L2244.6,1530.0L2247.8,1531.4L2251.1,1528.7L2253.5,1533.1L2255.5,1532.0L2257.5,1538.3L2259.6,1540.3L2261.8,1546.2L2264.1,1543.6L2266.5,1548.6L2269.0,1552.3L2271.7,1555.9L2274.5,1558.5L2277.5,1555.0L2280.6,1559.1L2283.8,1558.7L2287.1,1559.7L2290.5,1562.4L2294.0,1561.9L2297.5,1567.3L2301.0,1565.0L2304.5,1564.4L2308.0,1561.1L2311.5,1560.7L2312.0,1563.3" stroke="#00639e"/>
<path d="M262.0,1391.2L263.1,1389.6L264.4,1383.2L266.0,1383.7L268.2,1382.7L271.5,1382.4L274.2,1383.7L276.3,1382.4L278.1,1386.2L279.9,1389.2L281.7,1395.5L283.7,1396.1L286.1,1396.8L289.0,1403.5L292.3,1400.8L295.8,1406.7L299.3,1401.8L302.8,1401.0L306.3,1404.9L309.8,1406.5L313.3,1403.7L316.8,1400.1L320.3,1402.8L323.8,1398.6L327.2,1400.7L330.6,1397.0L334.0,1397.8L337.3,1396.1L340.6,1396.7L343.9,1397.4L347.2,1393.9L350.4,1388.9L353.6,1392.9L356.8,1388.9L360.0,1388.1L363.2,1385.3L366.4,1385.0L369.5,1383.9L372.6,1379.5L375.7,1377.3L378.8,1377.1L381.9,1373.5L385.0,1375.5L388.1,1373.9L391.2,1368.1L394.3,1367.7L397.4,1366.1L400.5,1363.3L403.6,1360.3L406.7,1360.3L409.8,1358.8L412.9,1356.0L416.0,1354.0L419.1,1353.7L422.2,1353.2L425.3,1348.1L428.4,1346.0L431.5,1344.2L434.6,1341.6L437.7,1344.9L440.8,1340.2L443.9,1338.5L447.1,1339.2L450.3,1338.6L453.5,1331.8L456.7,1330.2L459.9,1330.9L463.1,1328.9L466.3,1328.7L469.5,1325.1L472.7,1324.6L475.9,1323.4L479.1,1321.0L482.3,1319.7L485.5,1319.8L488.7,1318.9L491.8,1318.3L494.9,1314.4L498.0,1314.9L501.1,1308.9L504.2,1307.3L507.2,1305.9L510.2,1303.5L513.2,1299.9L516.2,1303.4L519.1,1297.7L522.0,1299.6L524.9,1296.9L527.7,1295.0L530.5,1288.3L533.3,1286.9L536.0,1287.2L538.7,1283.2L541.3,1284.4L543.9,1277.1L546.5,1275.5L549.0,1275.6L551.5,1270.5L553.9,1266.0L556.3,1268.1L558.7,1265.6L561.0,1260.2L563.3,1260.3L565.5,1256.0L567.7,1254.4L569.8,1250.1L571.9,1246.5L574.0,1243.9L576.0,1240.9L578.0,1239.5L579.9,1232.1L581.8,1232.5L583.6,1229.4L585.4,1228.1L587.2,1224.0L588.9,1217.2L590.6,1214.1L592.3,1215.4L593.9,1211.0L595.5,1206.0L597.1,1199.9L598.6,1197.0L600.1,1193.7L601.6,1195.2L603.0,1186.6L604.4,1188.2L605.8,1181.1L607.1,1177.2L608.4,1175.9L609.7,1170.9L611.0,1170.2L612.2,1166.9L613.4,1164.7L614.6,1157.9L615.7,1158.6L616.8,1149.1L617.9,1151.6L619.0,1145.5L620.1,1140.8L621.1,1140.5L622.1,1131.5L623.1,1130.3L624.1,1126.2L625.1,1121.1L626.1,1118.5L627.0,1118.2L627.9,1113.3L628.8,1112.2L629.7,1104.3L630.6,1102.3L631.5,1097.5L632.4,1095.5L633.3,1092.2L634.2,1087.0L635.1,1083.2L636.0,1077.9L636.9,1078.3L637.8,1076.0L638.7,1069.9L639.6,1067.8L640.4,1061.3L641.2,1056.0L642.0,1054.1L642.8,1050.5L643.6,1045.2L644.4,1047.8L645.2,1043.1L646.0,1038.0L646.8,1033.7L647.6,1030.2L648.4,1026.8L649.2,1024.8L650.0,1019.9L650.8,1014.9L651.6,1011.7L652.4,1004.9L653.2,1002.9L654.0,1000.5L654.7,998.4L655.4,992.2L656.1,989.8L656.8,985.9L657.5,985.4L658.2,981.2L658.9,974.0L659.6,973.3L660.3,968.9L661.0,963.7L661.7,961.7L662.4,958.6L663.1,954.9L663.8,947.0L664.5,947.2L665.2,944.3L665.9,937.1L666.6,936.4L667.3,931.2L668.0,928.8L668.7,925.4L669.3,915.7L669.9,915.5L670.5,909.4L671.1,906.7L671.7,906.2L672.3,902.9L672.9,899.4L673.5,896.3L674.1,888.0L674.7,884.8L675.3,884.2L675.9,880.8L676.5,876.6L677.1,874.2L677.7,865.6L678.3,861.7L678.9,858.4L679.5,856.1L680.1,853.9L680.7,848.8L681.3,846.9L681.9,845.4L682.5,838.7L683.1,834.9L683.7,830.0L684.3,828.7L684.9,820.7L685.5,821.8L686.1,816.5L686.7,810.5L687.3,806.4L687.9,807.9L688.5,802.7L689.1,796.2L689.7,795.8L690.3,788.4L690.9,787.4L691.5,786.0L692.1,782.8L692.7,774.8L693.3,775.2L693.9,767.7L694.5,769.0L695.1,765.4L695.8,757.4L696.5,755.4L697.2,752.3L697.9,748.3L698.6,739.6L699.3,739.0L700.0,734.0L700.7,732.0L701.4,726.0L702.1,726.0L702.8,720.8L703.5,719.4L704.2,711.5L704.9,707.5L705.6,703.6L706.3,700.4L707.1,696.9L707.9,691.9L708.7,692.6L709.5,684.2L710.3,683.7L711.1,681.4L711.9,673.6L712.7,670.2L713.5,672.5L714.4,664.4L715.3,659.7L716.2,661.0L717.1,652.4L718.0,650.5L718.9,644.9L719.8,647.1L720.8,642.6L721.8,638.2L722.8,635.2L723.8,629.5L724.9,623.7L726.0,621.7L727.1,617.5L728.2,617.0L729.4,615.0L730.6,611.8L731.9,606.0L733.2,601.9L734.5,601.0L735.9,597.6L737.3,592.2L738.8,589.9L740.4,583.2L742.0,581.0L743.7,578.6L745.5,573.9L747.4,572.5L749.4,567.3L751.5,565.5L753.8,567.9L756.3,565.2L759.0,556.7L761.9,556.8L765.0,554.0L768.3,551.8L771.8,555.4L775.3,556.4L778.8,554.8L782.2,551.7L785.4,555.7L788.3,559.7L790.9,562.8L793.3,563.4L795.4,564.5L797.3,569.9L799.0,569.9L800.6,572.7L802.1,579.7L803.5,579.1L804.8,588.6L806.0,589.8L807.2,594.5L808.3,596.3L809.4,596.7L810.5,603.2L811.5,604.3L812.5,610.2L813.5,613.8L814.5,618.0L815.5,621.6L816.5,624.8L817.4,628.9L818.3,632.1L819.2,632.3L820.1,640.0L821.0,639.6L821.9,647.7L822.8,651.4L823.7,650.1L824.6,653.0L825.5,658.3L826.4,663.5L827.3,668.8L828.2,668.6L829.1,672.7L830.0,676.2L830.8,678.7L831.6,683.6L832.4,688.8L833.2,690.6L834.0,694.9L834.8,696.9L835.5,701.7L836.2,703.7L836.9,707.2L837.6,713.2L838.3,717.7L839.0,719.2L839.7,723.9L840.4,726.0L841.1,731.7L841.8,734.6L842.5,737.7L843.2,745.0L843.9,747.4L844.6,754.7L845.3,757.3L846.0,758.3L846.7,765.6L847.3,765.8L847.9,770.8L848.5,774.7L849.1,780.8L849.7,779.5L850.3,787.7L850.9,787.7L851.5,792.7L852.1,797.5L852.7,797.4L853.3,800.8L854.0,803.6L854.7,808.7L855.4,812.2L856.1,816.5L856.8,821.7L857.5,823.9L858.2,829.6L858.9,831.0L859.6,839.4L860.3,839.6L861.0,842.9L861.7,849.1L862.4,854.5L863.1,855.6L863.8,857.5L864.5,865.0L865.2,866.8L865.9,868.8L866.6,875.5L867.4,875.4L868.2,878.9L869.0,887.4L869.8,886.6L870.6,893.0L871.4,893.8L872.2,901.8L873.0,903.6L873.8,904.7L874.6,907.6L875.4,912.0L876.2,915.9L877.1,920.9L878.0,926.0L878.9,932.0L879.8,930.4L880.7,933.5L881.6,940.5L882.5,940.4L883.4,947.7L884.3,948.6L885.2,954.8L886.2,956.4L887.2,959.3L888.2,967.2L889.2,966.5L890.2,970.1L891.2,974.5L892.2,976.0L893.2,981.9L894.3,986.8L895.4,988.6L896.5,995.9L897.6,995.2L898.7,999.0L899.8,1004.8L900.9,1009.7L902.0,1007.4L903.2,1014.2L904.4,1018.9L905.6,1019.8L906.8,1024.2L908.0,1025.3L909.2,1030.6L910.4,1033.5L911.6,1037.0L912.8,1042.0L914.0,1043.3L915.2,1048.8L916.4,1049.3L917.6,1052.6L918.8,1057.8L920.0,1058.5L921.2,1064.6L922.4,1067.5L923.6,1071.5L924.9,1073.4L926.2,1076.8L927.5,1081.8L928.8,1085.6L930.2,1087.7L931.6,1094.5L933.1,1094.4L934.6,1096.6L936.2,1100.6L937.9,1105.3L939.7,1108.2L941.7,1108.9L943.8,1110.7L946.0,1114.4L948.3,1117.0L950.7,1120.0L953.2,1125.5L955.8,1129.4L958.4,1127.1L961.0,1132.7L963.5,1134.2L965.9,1137.8L968.2,1139.3L970.5,1139.6L972.7,1142.7L974.9,1149.3L977.1,1148.1L979.3,1155.3L981.6,1155.1L983.9,1158.9L986.3,1162.7L988.8,1164.4L991.5,1165.7L994.4,1165.8L997.6,1168.1L1001.0,1173.2L1004.5,1171.3L1008.0,1172.1L1011.5,1168.7L1015.0,1170.4L1018.5,1172.4L1022.0,1168.4L1025.5,1173.8L1029.0,1169.8L1032.5,1172.5L1036.0,1174.6L1039.5,1174.9L1043.0,1173.3L1046.5,1173.2L1050.0,1172.6L1053.5,1171.9L1057.0,1173.7L1060.5,1178.2L1064.0,1174.2L1067.5,1178.1L1071.0,1180.1L1074.5,1177.1L1078.0,1177.0L1081.5,1177.4L1085.0,1179.1L1088.5,1183.1L1092.0,1183.8L1095.5,1183.6L1099.0,1182.1L1102.5,1180.4L1106.0,1178.6L1109.5,1179.9L1113.0,1179.4L1116.5,1177.0L1120.0,1180.0L1123.5,1179.7L1127.0,1175.6L1130.5,1172.8L1134.0,1178.2L1137.5,1177.3L1141.0,1174.5L1144.5,1176.1L1148.0,1173.9L1151.4,1178.1L1154.8,1175.5L1158.2,1180.5L1161.5,1182.0L1164.8,1185.1L1168.1,1182.7L1171.4,1187.6L1174.8,1184.7L1178.2,1183.8L1181.6,1185.5L1185.0,1188.6L1188.4,1189.2L1191.8,1191.1L1195.2,1195.3L1198.6,1192.0L1202.0,1196.2L1205.4,1194.4L1208.7,1196.6L1212.0,1198.2L1215.3,1196.6L1218.6,1198.4L1221.9,1199.3L1225.2,1204.3L1228.4,1204.9L1231.6,1207.3L1234.8,1210.0L1238.0,1211.7L1241.2,1209.5L1244.3,1212.7L1247.4,1213.3L1250.5,1219.3L1253.6,1218.3L1256.7,1221.0L1259.8,1223.3L1262.8,1220.9L1265.8,1224.3L1268.8,1227.0L1271.8,1232.9L1274.8,1234.4L1277.8,1230.6L1280.8,1235.7L1283.8,1236.9L1286.8,1240.9L1289.7,1242.0L1292.6,1246.3L1295.5,1247.6L1298.4,1244.9L1301.3,1250.5L1304.2,1252.8L1307.1,1253.4L1310.0,1254.5L1312.9,1255.2L1315.8,1261.5L1318.7,1264.2L1321.6,1264.4L1324.5,1265.3L1327.4,1265.9L1330.3,1266.8L1333.2,1271.0L1336.1,1271.7L1339.0,1275.7L1341.9,1278.3L1344.8,1279.7L1347.7,1278.6L1350.6,1285.6L1353.5,1284.8L1356.4,1288.9L1359.3,1289.8L1362.2,1291.4L1365.1,1294.4L1368.0,1297.3L1370.9,1295.7L1373.8,1301.3L1376.8,1300.9L1379.8,1301.1L1382.8,1304.3L1385.8,1306.3L1388.8,1311.9L1391.8,1311.2L1394.8,1310.5L1397.8,1316.9L1400.8,1317.3L1403.8,1321.4L1406.8,1321.6L1409.8,1321.6L1412.8,1328.4L1415.8,1326.3L1418.8,1330.6L1421.8,1333.4L1424.8,1330.7L1427.8,1337.1L1430.8,1334.6L1433.8,1338.5L1436.8,1341.1L1439.9,1342.3L1443.0,1340.9L1446.1,1347.0L1449.2,1346.0L1452.3,1347.4L1455.4,1352.0L1458.5,1354.3L1461.6,1353.1L1464.7,1358.5L1467.8,1356.3L1470.9,1359.5L1474.0,1361.7L1477.2,1360.8L1480.4,1362.4L1483.6,1366.9L1486.8,1365.4L1490.0,1368.4L1493.2,1370.4L1496.4,1372.6L1499.6,1370.6L1502.8,1377.0L1506.1,1374.0L1509.4,1378.7L1512.7,1379.9L1516.0,1379.4L1519.3,1382.7L1522.6,1380.2L1525.9,1383.6L1529.2,1386.5L1532.5,1383.7L1535.8,1390.9L1539.2,1389.0L1542.6,1391.6L1546.0,1392.8L1549.4,1389.8L1552.8,1391.8L1556.2,1391.9L1559.6,1398.2L1563.0,1397.6L1566.4,1397.0L1569.8,1395.9L1573.2,1398.6L1576.6,1398.5L1580.0,1399.6L1583.4,1405.0L1586.8,1403.6L1590.2,1403.8L1593.6,1406.4L1597.0,1409.2L1600.4,1408.3L1603.8,1409.6L1607.2,1410.5L1610.6,1407.3L1614.0,1413.5L1617.4,1411.6L1620.8,1412.8L1624.2,1415.1L1627.6,1415.8L1631.0,1417.0L1634.4,1418.7L1637.8,1413.4L1641.2,1418.7L1644.6,1421.0L1648.0,1421.4L1651.4,1420.6L1654.9,1423.2L1658.4,1423.8L1661.9,1422.6L1665.4,1425.1L1668.9,1425.6L1672.4,1422.8L1675.9,1425.6L1679.4,1424.8L1682.9,1423.9L1686.4,1428.1L1689.9,1430.9L1693.4,1427.0L1696.9,1430.0L1700.4,1426.3L1703.9,1431.4L1707.4,1430.9L1710.9,1426.5L1714.4,1432.3L1717.9,1426.9L1721.4,1427.1L1724.9,1432.6L1728.4,1431.9L1731.9,1430.2L1735.4,1431.3L1738.9,1428.5L1742.4,1428.7L1745.9,1424.1L1749.4,1424.4L1752.8,1426.4L1756.2,1426.9L1759.6,1425.4L1763.0,1420.4L1766.3,1422.7L1769.6,1420.3L1772.8,1414.7L1776.0,1418.7L1779.1,1416.3L1782.2,1412.1L1785.3,1411.8L1788.3,1411.6L1791.3,1407.0L1794.2,1406.5L1797.1,1402.8L1799.9,1398.2L1802.7,1395.2L1805.4,1395.4L1808.1,1393.3L1810.7,1392.3L1813.3,1388.3L1815.8,1385.2L1818.3,1380.6L1820.7,1379.9L1823.1,1378.4L1825.4,1375.2L1827.7,1371.7L1830.0,1366.7L1832.2,1369.7L1834.4,1361.5L1836.5,1359.5L1838.6,1355.5L1840.6,1358.5L1842.6,1349.4L1844.5,1349.0L1846.4,1347.0L1848.2,1346.4L1850.0,1340.7L1851.8,1337.7L1853.5,1335.7L1855.2,1329.7L1856.8,1325.1L1858.4,1325.2L1860.0,1322.0L1861.5,1316.1L1863.0,1316.4L1864.5,1311.3L1865.9,1306.5L1867.3,1303.0L1868.7,1298.7L1870.0,1300.5L1871.3,1294.6L1872.6,1287.8L1873.9,1285.6L1875.1,1286.9L1876.3,1279.7L1877.5,1276.3L1878.7,1271.0L1879.9,1267.3L1881.0,1268.6L1882.1,1260.5L1883.2,1260.9L1884.3,1254.1L1885.4,1250.9L1886.5,1246.5L1887.5,1244.4L1888.5,1243.5L1889.5,1236.2L1890.5,1233.0L1891.5,1228.4L1892.5,1229.6L1893.5,1224.5L1894.5,1218.1L1895.5,1219.9L1896.4,1214.8L1897.3,1209.3L1898.2,1209.3L1899.1,1206.0L1900.0,1197.0L1900.9,1198.3L1901.8,1189.5L1902.7,1191.4L1903.6,1187.6L1904.5,1179.7L1905.4,1177.1L1906.3,1172.6L1907.3,1173.3L1908.3,1164.2L1909.4,1166.1L1910.5,1158.6L1911.7,1154.7L1913.0,1155.6L1914.3,1151.9L1915.7,1147.3L1917.1,1142.3L1918.5,1141.3L1919.9,1138.7L1921.4,1133.0L1922.9,1132.9L1924.4,1129.8L1925.9,1125.4L1927.4,1122.4L1929.0,1115.1L1930.6,1115.4L1932.2,1113.0L1933.9,1109.3L1935.6,1101.7L1937.4,1098.8L1939.2,1097.5L1941.1,1097.2L1943.1,1090.9L1945.2,1088.3L1947.4,1086.7L1949.7,1083.5L1952.1,1078.2L1954.6,1077.7L1957.3,1078.5L1960.2,1075.9L1963.3,1071.3L1966.6,1073.6L1970.1,1067.3L1973.6,1069.1L1977.0,1073.8L1980.2,1070.4L1983.2,1071.8L1985.9,1075.6L1988.4,1081.7L1990.7,1079.8L1992.9,1087.4L1994.9,1085.7L1996.8,1092.2L1998.6,1096.0L2000.3,1094.4L2001.9,1101.4L2003.5,1106.2L2005.0,1106.6L2006.5,1112.8L2007.9,1111.8L2009.3,1115.3L2010.7,1120.6L2012.0,1120.9L2013.3,1125.6L2014.6,1130.6L2015.9,1133.1L2017.2,1137.2L2018.5,1141.5L2019.8,1143.6L2021.1,1146.7L2022.5,1150.4L2023.9,1152.6L2025.4,1158.8L2027.0,1159.4L2028.8,1161.6L2030.7,1166.0L2032.7,1169.7L2034.8,1172.1L2036.9,1175.8L2039.0,1176.8L2040.9,1181.0L2042.7,1184.7L2044.4,1185.9L2046.0,1192.9L2047.5,1192.0L2049.0,1198.8L2050.4,1204.0L2051.8,1202.4L2053.2,1206.2L2054.5,1209.2L2055.8,1217.1L2057.1,1220.4L2058.4,1223.1L2059.6,1223.8L2060.8,1229.7L2062.0,1232.0L2063.2,1237.2L2064.4,1238.0L2065.6,1244.2L2066.8,1245.8L2068.0,1249.2L2069.2,1254.3L2070.4,1253.2L2071.6,1260.4L2072.8,1262.4L2074.0,1263.2L2075.2,1272.1L2076.4,1269.8L2077.7,1276.7L2079.0,1279.6L2080.3,1282.6L2081.6,1284.1L2082.9,1288.5L2084.2,1294.6L2085.5,1294.0L2086.8,1299.6L2088.1,1302.0L2089.4,1308.8L2090.8,1308.0L2092.2,1314.1L2093.6,1317.3L2095.0,1322.5L2096.4,1322.1L2097.8,1327.3L2099.2,1331.7L2100.6,1337.0L2102.0,1335.0L2103.5,1342.9L2105.0,1344.9L2106.5,1349.9L2108.0,1353.5L2109.5,1352.1L2111.0,1354.0L2112.6,1361.9L2114.2,1362.8L2115.8,1367.3L2117.4,1369.4L2119.0,1372.3L2120.7,1378.2L2122.4,1378.1L2124.1,1379.9L2125.8,1387.5L2127.6,1387.5L2129.4,1390.5L2131.2,1393.2L2133.0,1400.6L2134.9,1401.9L2136.8,1405.8L2138.7,1404.4L2140.7,1411.8L2142.7,1415.9L2144.7,1417.9L2146.8,1420.0L2148.9,1419.9L2151.0,1427.7L2153.2,1430.0L2155.4,1430.7L2157.7,1432.0L2160.0,1437.9L2162.3,1441.8L2164.7,1441.0L2167.1,1442.2L2169.5,1448.3L2172.0,1450.0L2174.5,1452.9L2177.1,1453.4L2179.7,1459.7L2182.3,1457.3L2184.9,1460.9L2187.6,1461.2L2190.3,1468.7L2193.0,1467.5L2195.8,1473.0L2198.6,1472.7L2201.4,1474.6L2204.2,1474.8L2207.0,1478.2L2209.9,1481.4L2212.8,1484.4L2215.7,1486.8L2218.6,1489.9L2221.6,1488.8L2224.6,1491.8L2227.6,1494.3L2230.6,1497.5L2233.7,1496.2L2236.8,1497.1L2239.9,1501.9L2243.0,1505.5L2246.2,1505.8L2249.4,1503.7L2252.6,1505.4L2255.9,1506.3L2259.2,1509.8L2262.5,1510.5L2265.8,1512.0L2269.2,1513.6L2272.6,1512.8L2276.0,1516.0L2279.4,1517.2L2282.8,1516.5L2286.3,1520.6L2289.8,1517.4L2293.3,1519.7L2296.8,1519.0L2300.3,1523.2L2303.8,1519.0L2307.3,1518.1L2310.8,1522.2L2312.0,1522.2" stroke="#00c46a"/>
<path d="M262.0,1346.1L265.4,1347.2L268.8,1344.5L272.2,1346.8L275.6,1349.4L279.0,1351.2L282.4,1353.7L285.8,1355.1L289.2,1351.9L292.7,1355.7L296.2,1353.9L299.7,1353.0L303.2,1352.2L306.7,1353.8L310.2,1356.8L313.7,1352.3L317.2,1354.2L320.7,1352.8L324.2,1351.4L327.7,1349.7L331.1,1349.8L334.5,1351.1L337.9,1350.4L341.2,1346.6L344.5,1348.9L347.8,1349.2L351.1,1347.7L354.3,1340.5L357.5,1340.1L360.7,1337.3L363.9,1340.1L367.0,1336.4L370.1,1333.0L373.2,1332.6L376.3,1330.7L379.4,1328.9L382.5,1325.6L385.6,1329.3L388.7,1324.7L391.7,1320.4L394.7,1318.9L397.7,1321.7L400.7,1319.3L403.7,1313.2L406.7,1312.2L409.7,1308.1L412.7,1311.8L415.7,1305.8L418.7,1302.8L421.7,1303.7L424.6,1301.6L427.5,1299.9L430.4,1296.2L433.3,1294.4L436.2,1296.0L439.1,1290.5L442.0,1289.8L444.9,1288.8L447.8,1283.3L450.7,1281.2L453.6,1277.9L456.5,1277.3L459.4,1277.5L462.3,1277.3L465.2,1273.1L468.0,1267.7L470.8,1267.1L473.6,1264.4L476.4,1262.7L479.2,1262.1L482.0,1256.3L484.8,1254.5L487.6,1254.6L490.4,1250.4L493.2,1253.3L496.0,1246.2L498.8,1245.7L501.6,1240.8L504.4,1239.8L507.2,1241.2L510.0,1240.2L512.8,1238.0L515.6,1234.5L518.4,1233.3L521.2,1228.9L524.0,1226.3L526.8,1225.7L529.6,1220.1L532.4,1219.4L535.2,1214.9L538.0,1214.1L540.8,1209.4L543.6,1213.2L546.4,1209.8L549.2,1207.1L552.0,1201.5L554.8,1202.2L557.6,1199.2L560.4,1194.4L563.2,1197.1L566.0,1192.8L568.8,1187.4L571.5,1187.2L574.2,1184.5L576.9,1183.7L579.6,1178.1L582.3,1176.2L585.0,1178.5L587.7,1174.1L590.4,1170.2L593.0,1166.2L595.6,1164.4L598.2,1162.3L600.8,1159.3L603.3,1157.0L605.8,1153.3L608.3,1156.5L610.8,1148.4L613.2,1151.1L615.6,1145.8L618.0,1146.5L620.4,1139.2L622.7,1136.9L625.0,1135.6L627.3,1134.8L629.6,1130.5L631.8,1128.8L634.0,1122.5L636.2,1120.6L638.3,1119.4L640.4,1112.9L642.5,1110.7L644.6,1107.7L646.6,1104.4L648.6,1105.4L650.6,1101.7L652.5,1095.8L654.4,1094.6L656.3,1092.1L658.2,1091.2L660.0,1084.4L661.8,1082.5L663.6,1080.3L665.4,1074.4L667.2,1071.3L668.9,1069.2L670.6,1068.4L672.3,1065.5L674.0,1060.2L675.6,1054.7L677.2,1054.2L678.8,1048.7L680.4,1046.4L682.0,1042.0L683.5,1038.0L685.0,1040.5L686.5,1031.9L688.0,1029.0L689.5,1029.3L691.0,1026.3L692.6,1022.4L694.2,1017.1L695.8,1016.4L697.4,1013.8L699.0,1004.9L700.6,1003.0L702.1,998.8L703.6,998.7L705.1,992.5L706.6,991.5L708.2,986.6L709.8,985.4L711.4,984.9L713.0,980.5L714.7,975.9L716.5,970.2L718.3,967.7L720.2,965.5L722.2,960.7L724.4,962.7L726.7,955.8L729.2,956.4L731.9,951.6L734.8,954.3L738.0,951.7L741.4,949.0L744.9,945.9L748.4,949.5L751.8,951.3L755.0,950.7L757.9,956.5L760.6,957.2L763.1,961.4L765.5,962.8L767.7,961.2L769.8,968.0L771.8,967.2L773.8,975.9L775.7,976.8L777.5,980.1L779.3,983.0L781.1,987.6L782.8,985.8L784.5,992.5L786.2,995.5L787.9,999.9L789.6,1003.2L791.3,1005.6L793.0,1008.1L794.7,1013.6L796.4,1015.9L798.1,1016.0L799.8,1020.2L801.5,1024.9L803.2,1028.9L805.0,1027.0L806.8,1032.4L808.6,1034.1L810.5,1040.2L812.4,1041.5L814.4,1045.1L816.5,1046.8L818.6,1053.9L820.8,1052.4L823.1,1055.1L825.4,1057.7L827.8,1063.5L830.3,1066.5L832.8,1068.5L835.4,1068.8L838.1,1071.1L840.8,1074.2L843.6,1077.6L846.4,1076.9L849.3,1080.8L852.2,1084.3L855.1,1083.7L858.0,1085.4L861.0,1090.4L864.0,1093.3L867.0,1094.2L870.0,1097.5L873.0,1096.6L876.0,1096.0L879.1,1101.1L882.2,1099.0L885.3,1103.0L888.4,1107.4L891.5,1106.3L894.6,1111.7L897.7,1107.9L900.8,1110.3L904.0,1112.8L907.2,1114.6L910.4,1120.3L913.6,1120.7L916.8,1121.4L920.0,1120.0L923.2,1123.2L926.4,1122.3L929.6,1125.3L932.8,1129.4L936.0,1132.7L939.2,1129.4L942.4,1130.2L945.6,1134.4L948.8,1138.5L952.0,1140.9L955.2,1141.7L958.4,1141.3L961.6,1145.0L964.8,1143.4L967.9,1143.2L971.0,1147.8L974.1,1149.0L977.2,1150.6L980.3,1153.3L983.4,1156.8L986.5,1158.9L989.6,1156.7L992.7,1161.6L995.8,1163.4L998.9,1162.1L1002.0,1162.6L1005.1,1165.8L1008.2,1171.3L1011.3,1169.5L1014.4,1174.5L1017.5,1174.6L1020.6,1173.5L1023.7,1180.6L1026.8,1180.6L1029.9,1182.9L1033.1,1182.9L1036.3,1183.5L1039.5,1185.9L1042.7,1190.3L1045.9,1186.7L1049.2,1193.2L1052.5,1190.8L1055.8,1190.6L1059.2,1192.5L1062.6,1192.5L1066.0,1197.0L1069.4,1195.7L1072.9,1196.2L1076.4,1199.3L1079.9,1198.1L1083.4,1197.3L1086.9,1197.5L1090.4,1198.9L1093.9,1202.4L1097.4,1202.7L1100.9,1203.5L1104.4,1197.2L1107.9,1197.5L1111.4,1200.2L1114.9,1202.0L1118.4,1201.2L1121.9,1196.5L1125.4,1199.2L1128.9,1197.3L1132.3,1193.6L1135.7,1192.6L1139.1,1193.1L1142.5,1193.3L1145.9,1194.0L1149.2,1190.5L1152.5,1192.4L1155.8,1187.0L1159.1,1184.5L1162.4,1183.3L1165.6,1181.6L1168.8,1183.5L1172.0,1181.1L1175.2,1177.2L1178.4,1180.6L1181.6,1174.6L1184.8,1177.5L1187.9,1175.5L1191.0,1167.9L1194.1,1166.2L1197.2,1166.9L1200.3,1165.0L1203.4,1164.3L1206.5,1163.4L1209.6,1160.6L1212.7,1159.5L1215.8,1154.1L1218.9,1154.6L1222.0,1155.8L1225.1,1152.0L1228.2,1148.7L1231.3,1146.8L1234.4,1145.9L1237.5,1146.0L1240.6,1143.5L1243.7,1142.9L1246.8,1141.3L1249.9,1137.4L1253.0,1138.3L1256.1,1133.7L1259.2,1133.3L1262.3,1132.1L1265.5,1130.8L1268.7,1124.8L1271.9,1127.9L1275.1,1124.7L1278.3,1122.3L1281.5,1122.1L1284.7,1122.0L1288.0,1121.3L1291.3,1119.6L1294.6,1118.6L1297.9,1114.0L1301.2,1111.6L1304.5,1111.8L1307.9,1110.5L1311.3,1107.6L1314.7,1111.2L1318.1,1111.0L1321.5,1104.1L1325.0,1108.2L1328.5,1103.4L1332.0,1107.5L1335.5,1104.5L1339.0,1102.6L1342.5,1104.7L1346.0,1105.6L1349.5,1102.4L1353.0,1101.1L1356.5,1100.5L1360.0,1105.0L1363.5,1104.1L1367.0,1105.5L1370.5,1104.1L1374.0,1103.2L1377.5,1107.1L1381.0,1106.1L1384.4,1107.6L1387.8,1104.2L1391.2,1105.6L1394.5,1107.8L1397.8,1107.8L1401.1,1114.8L1404.3,1111.5L1407.5,1113.4L1410.6,1117.0L1413.7,1121.9L1416.7,1121.2L1419.7,1121.5L1422.7,1126.1L1425.6,1127.4L1428.5,1131.4L1431.3,1133.8L1434.1,1130.7L1436.9,1132.5L1439.6,1138.3L1442.3,1141.2L1445.0,1140.8L1447.6,1144.4L1450.2,1148.9L1452.8,1150.2L1455.4,1151.9L1457.9,1152.6L1460.4,1159.5L1462.9,1160.2L1465.4,1160.7L1467.9,1168.2L1470.3,1167.8L1472.7,1172.6L1475.1,1170.7L1477.5,1173.6L1479.9,1181.2L1482.3,1180.3L1484.7,1182.8L1487.1,1189.2L1489.5,1186.3L1491.9,1190.0L1494.2,1191.7L1496.5,1199.1L1498.8,1202.2L1501.1,1200.4L1503.4,1207.7L1505.7,1209.8L1508.0,1208.2L1510.3,1210.5L1512.6,1217.5L1514.9,1218.0L1517.2,1220.5L1519.5,1222.6L1521.8,1225.4L1524.2,1231.3L1526.6,1234.9L1529.0,1233.8L1531.4,1239.4L1533.8,1238.8L1536.2,1243.4L1538.6,1243.7L1541.0,1249.5L1543.4,1251.4L1545.8,1252.3L1548.2,1257.4L1550.7,1261.3L1553.2,1262.4L1555.7,1266.4L1558.2,1264.7L1560.7,1268.3L1563.2,1268.2L1565.7,1276.6L1568.2,1276.0L1570.8,1277.2L1573.4,1283.7L1576.0,1280.4L1578.6,1288.8L1581.2,1286.8L1583.8,1287.9L1586.5,1296.2L1589.2,1292.8L1591.9,1297.6L1594.6,1301.5L1597.3,1305.3L1600.1,1307.6L1602.9,1309.3L1605.7,1307.4L1608.5,1308.5L1611.3,1313.9L1614.2,1316.4L1617.1,1320.3L1620.0,1319.8L1622.9,1324.6L1625.9,1324.2L1628.9,1328.0L1631.9,1325.8L1635.0,1326.2L1638.1,1331.6L1641.2,1334.7L1644.3,1337.3L1647.5,1335.2L1650.7,1340.3L1653.9,1340.9L1657.1,1341.5L1660.4,1340.3L1663.7,1344.9L1667.0,1347.3L1670.3,1342.8L1673.6,1347.9L1677.0,1347.7L1680.4,1346.5L1683.8,1352.0L1687.2,1353.5L1690.6,1355.2L1694.0,1354.8L1697.5,1351.1L1701.0,1357.4L1704.5,1352.9L1708.0,1354.7L1711.5,1359.7L1715.0,1360.2L1718.5,1356.8L1722.0,1356.7L1725.5,1360.8L1729.0,1361.6L1732.5,1361.9L1736.0,1357.3L1739.5,1360.5L1743.0,1359.5L1746.5,1361.0L1750.0,1360.2L1753.5,1361.0L1757.0,1359.8L1760.5,1358.5L1764.0,1362.7L1767.5,1360.3L1771.0,1361.0L1774.5,1359.2L1777.9,1359.2L1781.3,1358.0L1784.6,1357.7L1787.9,1356.1L1791.1,1354.7L1794.2,1352.7L1797.2,1351.8L1800.1,1347.0L1802.9,1341.5L1805.6,1344.7L1808.2,1342.5L1810.7,1339.0L1813.1,1336.9L1815.5,1333.9L1817.8,1329.4L1820.0,1329.4L1822.1,1323.3L1824.2,1320.1L1826.2,1316.0L1828.1,1314.1L1830.0,1308.6L1831.8,1311.1L1833.6,1308.3L1835.4,1303.1L1837.1,1298.2L1838.8,1293.3L1840.5,1294.1L1842.1,1288.7L1843.7,1288.6L1845.3,1282.5L1846.8,1279.5L1848.3,1277.8L1849.8,1275.0L1851.3,1272.7L1852.8,1266.6L1854.2,1260.7L1855.6,1259.3L1857.0,1255.0L1858.4,1253.9L1859.8,1252.6L1861.2,1248.4L1862.5,1245.7L1863.8,1240.3L1865.1,1234.7L1866.4,1234.7L1867.7,1229.2L1869.0,1226.8L1870.3,1225.3L1871.5,1219.6L1872.7,1213.5L1873.9,1214.6L1875.1,1205.8L1876.3,1208.3L1877.5,1204.6L1878.7,1199.5L1879.9,1193.8L1881.0,1191.8L1882.1,1190.6L1883.2,1183.3L1884.3,1183.6L1885.4,1178.0L1886.5,1171.5L1887.6,1169.8L1888.7,1169.6L1889.8,1163.6L1890.9,1158.0L1891.9,1157.8L1892.9,1153.9L1893.9,1152.6L1894.9,1146.2L1895.9,1141.2L1896.9,1141.9L1897.9,1136.3L1898.9,1132.3L1899.9,1129.1L1900.9,1124.7L1901.9,1122.9L1902.9,1116.3L1903.9,1113.1L1904.9,1108.9L1905.9,1107.1L1906.9,1105.0L1907.9,1102.3L1908.9,1097.8L1909.9,1091.8L1910.9,1088.4L1911.9,1083.3L1912.9,1081.6L1914.0,1081.5L1915.1,1075.5L1916.2,1071.2L1917.3,1067.8L1918.5,1062.4L1919.7,1063.2L1921.0,1056.6L1922.3,1052.8L1923.6,1053.7L1924.9,1045.3L1926.3,1046.3L1927.7,1039.2L1929.1,1037.4L1930.5,1030.7L1931.9,1027.3L1933.3,1024.8L1934.7,1023.3L1936.1,1019.8L1937.5,1020.0L1938.9,1015.0L1940.4,1007.6L1941.9,1008.9L1943.5,1001.1L1945.2,998.5L1947.0,996.4L1948.9,991.6L1951.0,993.0L1953.3,988.1L1955.8,983.3L1958.5,983.8L1961.4,981.3L1964.5,977.3L1967.8,979.3L1971.2,979.0L1974.7,974.9L1978.2,975.4L1981.7,975.0L1985.2,978.2L1988.6,977.7L1991.8,984.1L1994.7,985.3L1997.4,986.2L1999.8,986.4L2002.0,989.3L2004.0,996.3L2005.9,999.2L2007.6,999.0L2009.2,1005.1L2010.7,1004.0L2012.2,1009.2L2013.6,1012.4L2015.0,1015.3L2016.3,1021.4L2017.6,1023.8L2018.9,1025.5L2020.1,1031.2L2021.3,1031.6L2022.5,1035.9L2023.7,1038.7L2024.9,1044.4L2026.0,1046.4L2027.1,1047.9L2028.2,1051.9L2029.3,1057.5L2030.4,1058.2L2031.5,1065.0L2032.6,1066.9L2033.7,1073.9L2034.8,1074.7L2035.9,1076.8L2037.0,1085.0L2038.1,1084.5L2039.2,1089.8L2040.3,1093.7L2041.4,1093.5L2042.5,1099.1L2043.7,1101.4L2044.9,1107.5L2046.1,1108.2L2047.3,1110.6L2048.5,1115.0L2049.7,1119.9L2051.0,1120.9L2052.3,1125.3L2053.6,1130.6L2054.9,1136.6L2056.2,1138.4L2057.5,1141.6L2058.8,1145.8L2060.2,1144.2L2061.6,1148.9L2063.0,1153.0L2064.4,1158.4L2065.8,1162.2L2067.2,1164.7L2068.6,1164.9L2070.0,1169.7L2071.4,1174.2L2072.8,1176.3L2074.2,1177.5L2075.6,1182.8L2077.0,1188.5L2078.4,1190.2L2079.8,1190.1L2081.2,1194.8L2082.6,1201.4L2084.0,1200.0L2085.4,1207.5L2086.8,1206.7L2088.2,1215.8L2089.6,1216.4L2091.0,1220.4L2092.4,1222.4L2093.8,1226.5L2095.2,1230.3L2096.6,1234.6L2098.0,1237.7L2099.4,1242.5L2100.8,1243.2L2102.2,1248.5L2103.6,1251.6L2105.0,1254.0L2106.4,1254.5L2107.8,1257.6L2109.2,1261.3L2110.6,1266.2L2112.0,1268.0L2113.4,1272.1L2114.8,1275.6L2116.2,1280.7L2117.7,1282.1L2119.2,1285.1L2120.7,1289.8L2122.2,1296.3L2123.7,1299.6L2125.3,1301.1L2126.9,1306.1L2128.5,1307.9L2130.1,1310.4L2131.8,1312.0L2133.5,1314.6L2135.2,1319.9L2137.0,1325.8L2138.8,1324.9L2140.6,1326.4L2142.5,1331.0L2144.4,1337.8L2146.3,1339.5L2148.3,1339.7L2150.3,1346.3L2152.3,1348.8L2154.4,1349.7L2156.5,1352.3L2158.6,1354.7L2160.8,1357.0L2163.0,1360.6L2165.3,1363.0L2167.6,1368.3L2169.9,1367.7L2172.2,1373.8L2174.6,1373.4L2177.0,1375.1L2179.4,1378.1L2181.9,1382.1L2184.4,1383.7L2186.9,1387.0L2189.4,1392.3L2191.9,1393.3L2194.4,1397.7L2197.0,1400.7L2199.6,1402.8L2202.2,1400.2L2204.8,1407.4L2207.4,1409.5L2210.0,1413.5L2212.6,1412.3L2215.2,1418.3L2217.8,1419.0L2220.5,1419.4L2223.2,1423.1L2225.9,1423.2L2228.6,1430.1L2231.3,1428.4L2234.0,1428.6L2236.7,1433.6L2239.5,1434.7L2242.3,1439.2L2245.1,1441.3L2247.9,1441.7L2250.7,1446.8L2253.6,1446.1L2256.5,1452.0L2259.4,1453.1L2262.3,1451.2L2265.2,1453.9L2268.1,1455.7L2271.1,1461.4L2274.1,1461.2L2277.1,1464.2L2280.1,1467.5L2283.1,1464.7L2286.1,1468.3L2289.0,1471.7L2291.9,1473.9L2294.8,1473.6L2297.9,1476.1L2301.2,1475.7L2304.7,1477.1L2307.8,1478.5L2310.2,1475.8L2312.0,1467.4" stroke="#000000"/>
<path d="M2241,1534 L2246,1528 L2250,1521 L2253.5,1530 L2258,1538" stroke="#00639e"/>
</g>
<line x1="743.5" y1="208.5" x2="743.5" y2="1233.0" stroke="#000" stroke-width="9.0" stroke-linecap="round" stroke-dasharray="33.0 43.0"/>
<line x1="820.5" y1="255.5" x2="820.5" y2="1280.0" stroke="#000" stroke-width="9.0" stroke-linecap="round" stroke-dasharray="33.0 43.0"/>
<line x1="1374.5" y1="928.9" x2="1374.5" y2="1496.0" stroke="#000" stroke-width="9.0" stroke-linecap="round" stroke-dasharray="33.0 43.0"/>
<path d="M1981.3,851.5V886.5M1981.3,928.0V959.5M1981.3,1004.5V1035.5M1981.3,1081.5V1111.5M1981.3,1157.5V1187.1M1981.3,1232.5V1262.0M1981.3,1305.5V1336.9M1981.3,1382.5V1413.5M1981.3,917.0V918.0M1981.3,1047.8V1048.8M1981.3,1208.5V1209.5M1981.3,1273.5V1274.5M1981.3,1368.5V1369.5" stroke="#000" stroke-width="9" stroke-linecap="round" fill="none"/>
<line x1="2058.5" y1="1363.8" x2="2063.5" y2="1368.2" stroke="#000" stroke-width="7" stroke-linecap="round"/>
<g fill="#000">
<rect x="255" y="62" width="9" height="1554"/>
<rect x="2309" y="62" width="10" height="1554"/>
<rect x="259" y="57" width="2055" height="10"/>
<rect x="259" y="1611" width="2055" height="9"/>
<rect x="392.0" y="1584.0" width="9" height="27"/>
<rect x="392.0" y="67" width="9" height="27"/>
<rect x="529.0" y="1599.0" width="9" height="12"/>
<rect x="529.0" y="67" width="9" height="12"/>
<rect x="665.9" y="1584.0" width="9" height="27"/>
<rect x="665.9" y="67" width="9" height="27"/>
<rect x="802.8" y="1599.0" width="9" height="12"/>
<rect x="802.8" y="67" width="9" height="12"/>
<rect x="939.8" y="1584.0" width="9" height="27"/>
<rect x="939.8" y="67" width="9" height="27"/>
<rect x="1076.8" y="1599.0" width="9" height="12"/>
<rect x="1076.8" y="67" width="9" height="12"/>
<rect x="1213.7" y="1584.0" width="9" height="27"/>
<rect x="1213.7" y="67" width="9" height="27"/>
<rect x="1350.6" y="1599.0" width="9" height="12"/>
<rect x="1350.6" y="67" width="9" height="12"/>
<rect x="1487.6" y="1584.0" width="9" height="27"/>
<rect x="1487.6" y="67" width="9" height="27"/>
<rect x="1624.5" y="1599.0" width="9" height="12"/>
<rect x="1624.5" y="67" width="9" height="12"/>
<rect x="1761.5" y="1584.0" width="9" height="27"/>
<rect x="1761.5" y="67" width="9" height="27"/>
<rect x="1898.5" y="1599.0" width="9" height="12"/>
<rect x="1898.5" y="67" width="9" height="12"/>
<rect x="2035.4" y="1584.0" width="9" height="27"/>
<rect x="2035.4" y="67" width="9" height="27"/>
<rect x="2172.3" y="1599.0" width="9" height="12"/>
<rect x="2172.3" y="67" width="9" height="12"/>
</g>
<text transform="translate(396.5,1719.0) scale(1,1.040)" font-size="90.5" text-anchor="middle">100</text>
<text transform="translate(670.4,1719.0) scale(1,1.040)" font-size="90.5" text-anchor="middle">200</text>
<text transform="translate(944.3,1719.0) scale(1,1.040)" font-size="90.5" text-anchor="middle">300</text>
<text transform="translate(1218.2,1719.0) scale(1,1.040)" font-size="90.5" text-anchor="middle">400</text>
<text transform="translate(1492.1,1719.0) scale(1,1.040)" font-size="90.5" text-anchor="middle">500</text>
<text transform="translate(1766.0,1719.0) scale(1,1.040)" font-size="90.5" text-anchor="middle">600</text>
<text transform="translate(2039.9,1719.0) scale(1,1.040)" font-size="90.5" text-anchor="middle">700</text>
<text transform="translate(2313.8,1719.0) scale(1,1.040)" font-size="90.5" text-anchor="middle">800</text>
<text transform="translate(914.8,1888.0) scale(1,1.040)" font-size="97.2" text-anchor="start" xml:space="preserve">Temperature / </text>
<text transform="translate(1552.2,1844.4) scale(1,1.040)" font-size="65.5" text-anchor="start">o</text>
<text transform="translate(1588.6,1888.0) scale(1,1.040)" font-size="97.2" text-anchor="start">C</text>
<g transform="translate(118,1292.9) rotate(-90)">
<text transform="translate(0.0,0.0) scale(1,1.040)" font-size="97.0" text-anchor="start">H</text>
<text transform="translate(70.0,30.0) scale(1,1.040)" font-size="68.0" text-anchor="start">2</text>
<text transform="translate(134.8,0.0) scale(1,1.040)" font-size="97.0" text-anchor="start">consumption / arb.u.</text>
</g>
<rect x="1532.5" y="102.5" width="744" height="402.3" fill="none" stroke="#000" stroke-width="3"/>
<line x1="1542.5" y1="152.5" x2="1728" y2="152.5" stroke="#000000" stroke-width="13" stroke-linecap="round"/>
<text transform="translate(1751.5,181.1) scale(1,1.040)" font-size="83.6" text-anchor="start">Cu-SSZ-13(1)</text>
<line x1="1542.5" y1="254.4" x2="1728" y2="254.4" stroke="#ff0000" stroke-width="13" stroke-linecap="round"/>
<text transform="translate(1751.5,282.9) scale(1,1.040)" font-size="83.6" text-anchor="start">Cu-SSZ-13(2)</text>
<line x1="1542.5" y1="356.3" x2="1728" y2="356.3" stroke="#00639e" stroke-width="13" stroke-linecap="round"/>
<text transform="translate(1751.5,384.7) scale(1,1.040)" font-size="83.6" text-anchor="start">Cu-SSZ-13(3)</text>
<line x1="1542.5" y1="458.2" x2="1728" y2="458.2" stroke="#00c46a" stroke-width="13" stroke-linecap="round"/>
<text transform="translate(1751.5,486.5) scale(1,1.040)" font-size="83.6" text-anchor="start">Cu-SSZ-13(4)</text>
<text transform="translate(672.0,192.7) scale(1,1.040)" font-size="84.5" text-anchor="start">227</text>
<text transform="translate(804.1,237.2) scale(1,1.040)" font-size="84.5" text-anchor="start">255</text>
<text transform="translate(434.4,364.9) scale(1,1.040)" font-size="84.5" text-anchor="start">8MRs</text>
<text transform="translate(1304.6,912.8) scale(1,1.040)" font-size="84.5" text-anchor="start">458</text>
<text transform="translate(1909.4,835.8) scale(1,1.040)" font-size="84.5" text-anchor="start">678</text>
<text transform="translate(1480.7,1098.4) scale(1,1.040)" font-size="84.5" text-anchor="start">6MRs</text>
<text transform="translate(335.6,286.2) scale(1,1.040)" font-size="67.0" text-anchor="start">Cu</text><text transform="translate(421.2,255.8) scale(1,1.040)" font-size="45.5" text-anchor="start">2+</text>
<line x1="473.2" y1="263.2" x2="548.9" y2="263.2" stroke="#000" stroke-width="3.2"/><polygon points="568.9,263.2 527.1,252.4 535.2,263.2 527.1,274.0" fill="#000"/>
<text transform="translate(585.2,286.2) scale(1,1.040)" font-size="67.0" text-anchor="start">Cu</text><text transform="translate(670.8,254.8) scale(1,1.040)" font-size="45.5" text-anchor="start">+</text>
<text transform="translate(839.6,363.4) scale(1,1.040)" font-size="67.0" text-anchor="start">CuO</text>
<line x1="995.9" y1="340.8" x2="1070.8" y2="340.8" stroke="#000" stroke-width="3.2"/><polygon points="1090.8,340.8 1048.9,330.1 1057.0,340.8 1048.9,351.5" fill="#000"/>
<text transform="translate(1107.5,363.4) scale(1,1.040)" font-size="67.0" text-anchor="start">Cu</text><text transform="translate(1194.2,331.7) scale(1,1.040)" font-size="45.5" text-anchor="start">0</text>
<text transform="translate(1850.4,750.1) scale(1,1.040)" font-size="67.0" text-anchor="start">Cu</text><text transform="translate(1936.3,718.0) scale(1,1.040)" font-size="45.5" text-anchor="start">+</text>
<line x1="1971.2" y1="729.2" x2="2046.8" y2="729.2" stroke="#000" stroke-width="3.2"/><polygon points="2066.8,729.2 2024.1,718.8 2032.2,729.2 2024.1,739.6" fill="#000"/>
<text transform="translate(2075.4,750.1) scale(1,1.040)" font-size="67.0" text-anchor="start">Cu</text><text transform="translate(2161.1,718.5) scale(1,1.040)" font-size="45.5" text-anchor="start">0</text>
<text transform="translate(1409.3,1020.9) scale(1,1.040)" font-size="67.0" text-anchor="start">Cu</text><text transform="translate(1494.9,991.5) scale(1,1.040)" font-size="45.5" text-anchor="start">2+</text>
<line x1="1542.9" y1="1002.1" x2="1619.4" y2="1002.1" stroke="#000" stroke-width="3.2"/><polygon points="1639.4,1002.1 1597.2,991.6 1605.3,1002.1 1597.2,1012.6" fill="#000"/>
<text transform="translate(1658.4,1020.9) scale(1,1.040)" font-size="67.0" text-anchor="start">Cu</text><text transform="translate(1744.5,989.8) scale(1,1.040)" font-size="45.5" text-anchor="start">+</text>
</svg></body></html>
